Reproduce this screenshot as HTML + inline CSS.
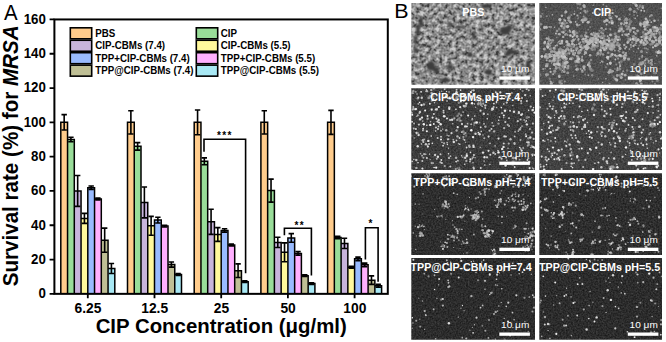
<!DOCTYPE html>
<html><head><meta charset="utf-8"><style>
html,body{margin:0;padding:0;background:#fff;width:666px;height:342px;overflow:hidden}
</style></head><body>
<svg width="666" height="342" viewBox="0 0 666 342" style="display:block"><rect width="666" height="342" fill="#fff"/><rect x="60.80" y="122.35" width="6.75" height="171.50" fill="#FFCC8C"/><rect x="67.55" y="139.50" width="6.75" height="154.35" fill="#99DD99"/><rect x="74.30" y="190.95" width="6.75" height="102.90" fill="#C8B4DC"/><rect x="81.05" y="218.39" width="6.75" height="75.46" fill="#FFF89C"/><rect x="87.80" y="187.69" width="6.75" height="106.16" fill="#99BBFF"/><rect x="94.55" y="199.01" width="6.75" height="94.84" fill="#FFB0FF"/><rect x="101.30" y="240.17" width="6.75" height="53.68" fill="#BFBF95"/><rect x="108.05" y="268.47" width="6.75" height="25.38" fill="#A8E8F4"/><rect x="127.50" y="122.35" width="6.75" height="171.50" fill="#FFCC8C"/><rect x="134.25" y="146.36" width="6.75" height="147.49" fill="#99DD99"/><rect x="141.00" y="202.44" width="6.75" height="91.41" fill="#C8B4DC"/><rect x="147.75" y="225.76" width="6.75" height="68.09" fill="#FFF89C"/><rect x="154.50" y="220.11" width="6.75" height="73.75" fill="#99BBFF"/><rect x="161.25" y="226.11" width="6.75" height="67.74" fill="#FFB0FF"/><rect x="168.00" y="264.52" width="6.75" height="29.33" fill="#BFBF95"/><rect x="174.75" y="274.47" width="6.75" height="19.38" fill="#A8E8F4"/><rect x="194.20" y="122.35" width="6.75" height="171.50" fill="#FFCC8C"/><rect x="200.95" y="161.28" width="6.75" height="132.57" fill="#99DD99"/><rect x="207.70" y="221.82" width="6.75" height="72.03" fill="#C8B4DC"/><rect x="214.45" y="234.51" width="6.75" height="59.34" fill="#FFF89C"/><rect x="221.20" y="230.40" width="6.75" height="63.46" fill="#99BBFF"/><rect x="227.95" y="244.97" width="6.75" height="48.88" fill="#FFB0FF"/><rect x="234.70" y="270.70" width="6.75" height="23.15" fill="#BFBF95"/><rect x="241.45" y="281.67" width="6.75" height="12.18" fill="#A8E8F4"/><rect x="260.90" y="122.35" width="6.75" height="171.50" fill="#FFCC8C"/><rect x="267.65" y="190.61" width="6.75" height="103.24" fill="#99DD99"/><rect x="274.40" y="242.40" width="6.75" height="51.45" fill="#C8B4DC"/><rect x="281.15" y="252.35" width="6.75" height="41.50" fill="#FFF89C"/><rect x="287.90" y="237.94" width="6.75" height="55.91" fill="#99BBFF"/><rect x="294.65" y="253.38" width="6.75" height="40.47" fill="#FFB0FF"/><rect x="301.40" y="275.67" width="6.75" height="18.18" fill="#BFBF95"/><rect x="308.15" y="283.56" width="6.75" height="10.29" fill="#A8E8F4"/><rect x="327.60" y="122.35" width="6.75" height="171.50" fill="#FFCC8C"/><rect x="334.35" y="237.60" width="6.75" height="56.25" fill="#99DD99"/><rect x="341.10" y="243.43" width="6.75" height="50.42" fill="#C8B4DC"/><rect x="347.85" y="267.27" width="6.75" height="26.58" fill="#FFF89C"/><rect x="354.60" y="258.86" width="6.75" height="34.99" fill="#99BBFF"/><rect x="361.35" y="264.87" width="6.75" height="28.98" fill="#FFB0FF"/><rect x="368.10" y="280.13" width="6.75" height="13.72" fill="#BFBF95"/><rect x="374.85" y="285.79" width="6.75" height="8.06" fill="#A8E8F4"/><path d="M60.80,293.85V122.35H67.55V293.85M67.55,293.85V139.50H74.30V293.85M74.30,293.85V190.95H81.05V293.85M81.05,293.85V218.39H87.80V293.85M87.80,293.85V187.69H94.55V293.85M94.55,293.85V199.01H101.30V293.85M101.30,293.85V240.17H108.05V293.85M108.05,293.85V268.47H114.80V293.85M127.50,293.85V122.35H134.25V293.85M134.25,293.85V146.36H141.00V293.85M141.00,293.85V202.44H147.75V293.85M147.75,293.85V225.76H154.50V293.85M154.50,293.85V220.11H161.25V293.85M161.25,293.85V226.11H168.00V293.85M168.00,293.85V264.52H174.75V293.85M174.75,293.85V274.47H181.50V293.85M194.20,293.85V122.35H200.95V293.85M200.95,293.85V161.28H207.70V293.85M207.70,293.85V221.82H214.45V293.85M214.45,293.85V234.51H221.20V293.85M221.20,293.85V230.40H227.95V293.85M227.95,293.85V244.97H234.70V293.85M234.70,293.85V270.70H241.45V293.85M241.45,293.85V281.67H248.20V293.85M260.90,293.85V122.35H267.65V293.85M267.65,293.85V190.61H274.40V293.85M274.40,293.85V242.40H281.15V293.85M281.15,293.85V252.35H287.90V293.85M287.90,293.85V237.94H294.65V293.85M294.65,293.85V253.38H301.40V293.85M301.40,293.85V275.67H308.15V293.85M308.15,293.85V283.56H314.90V293.85M327.60,293.85V122.35H334.35V293.85M334.35,293.85V237.60H341.10V293.85M341.10,293.85V243.43H347.85V293.85M347.85,293.85V267.27H354.60V293.85M354.60,293.85V258.86H361.35V293.85M361.35,293.85V264.87H368.10V293.85M368.10,293.85V280.13H374.85V293.85M374.85,293.85V285.79H381.60V293.85" fill="none" stroke="#000" stroke-width="1.5"/><path d="M64.17,114.63V130.07M61.47,114.63H66.88M61.47,130.07H66.88M70.92,137.27V141.73M68.22,137.27H73.62M68.22,141.73H73.62M77.67,175.52V206.39M74.97,175.52H80.38M74.97,206.39H80.38M84.42,213.42V223.36M81.72,213.42H87.12M81.72,223.36H87.12M91.17,185.98V189.41M88.47,185.98H93.88M88.47,189.41H93.88M97.92,198.15V199.87M95.22,198.15H100.62M95.22,199.87H100.62M104.67,228.17V252.18M101.97,228.17H107.38M101.97,252.18H107.38M111.42,263.49V273.44M108.72,263.49H114.12M108.72,273.44H114.12M130.88,110.69V134.01M128.18,110.69H133.57M128.18,134.01H133.57M137.62,142.59V150.13M134.93,142.59H140.32M134.93,150.13H140.32M144.38,187.01V217.88M141.68,187.01H147.07M141.68,217.88H147.07M151.12,216.33V235.20M148.43,216.33H153.82M148.43,235.20H153.82M157.88,217.19V223.02M155.18,217.19H160.57M155.18,223.02H160.57M164.62,225.25V226.97M161.93,225.25H167.32M161.93,226.97H167.32M171.38,261.95V267.10M168.68,261.95H174.07M168.68,267.10H174.07M178.12,273.61V275.33M175.43,273.61H180.82M175.43,275.33H180.82M197.57,110.00V134.70M194.88,110.00H200.27M194.88,134.70H200.27M204.32,157.85V164.71M201.62,157.85H207.02M201.62,164.71H207.02M211.07,209.30V234.34M208.38,209.30H213.77M208.38,234.34H213.77M217.82,227.65V241.37M215.12,227.65H220.52M215.12,241.37H220.52M224.57,228.68V232.11M221.88,228.68H227.27M221.88,232.11H227.27M231.32,244.12V245.83M228.62,244.12H234.02M228.62,245.83H234.02M238.07,263.84V277.56M235.38,263.84H240.77M235.38,277.56H240.77M244.82,280.82V282.53M242.12,280.82H247.52M242.12,282.53H247.52M264.28,110.69V134.01M261.58,110.69H266.98M261.58,134.01H266.98M271.03,179.12V202.10M268.33,179.12H273.73M268.33,202.10H273.73M277.78,237.26V247.55M275.08,237.26H280.48M275.08,247.55H280.48M284.53,242.91V261.78M281.83,242.91H287.23M281.83,261.78H287.23M291.28,233.65V242.23M288.58,233.65H293.98M288.58,242.23H293.98M298.03,251.66V255.09M295.33,251.66H300.73M295.33,255.09H300.73M304.78,274.81V276.53M302.08,274.81H307.48M302.08,276.53H307.48M311.53,282.70V284.42M308.83,282.70H314.23M308.83,284.42H314.23M330.98,110.34V134.35M328.28,110.34H333.68M328.28,134.35H333.68M337.73,236.40V238.80M335.03,236.40H340.43M335.03,238.80H340.43M344.48,238.28V248.57M341.78,238.28H347.18M341.78,248.57H347.18M351.23,266.41V268.12M348.53,266.41H353.93M348.53,268.12H353.93M357.98,257.15V260.58M355.28,257.15H360.68M355.28,260.58H360.68M364.73,263.15V266.58M362.03,263.15H367.43M362.03,266.58H367.43M371.48,275.84V284.42M368.78,275.84H374.18M368.78,284.42H374.18M378.23,284.42V287.16M375.53,284.42H380.93M375.53,287.16H380.93" fill="none" stroke="#000" stroke-width="1.6"/><rect x="54.4" y="19.45" width="333.40" height="274.40" fill="none" stroke="#000" stroke-width="2"/><path d="M49.60,293.85H54.4M49.60,259.55H54.4M49.60,225.25H54.4M49.60,190.95H54.4M49.60,156.65H54.4M49.60,122.35H54.4M49.60,88.05H54.4M49.60,53.75H54.4M49.60,19.45H54.4M87.80,293.85V298.35M154.50,293.85V298.35M221.20,293.85V298.35M287.90,293.85V298.35M354.60,293.85V298.35" stroke="#000" stroke-width="1.8"/><g style="font-family:'Liberation Sans',sans-serif;font-weight:bold;font-size:13.3px"><text transform="translate(45.9,298.15) scale(1,1.1)" text-anchor="end">0</text><text transform="translate(45.9,263.85) scale(1,1.1)" text-anchor="end">20</text><text transform="translate(45.9,229.55) scale(1,1.1)" text-anchor="end">40</text><text transform="translate(45.9,195.25) scale(1,1.1)" text-anchor="end">60</text><text transform="translate(45.9,160.95) scale(1,1.1)" text-anchor="end">80</text><text transform="translate(45.9,126.65) scale(1,1.1)" text-anchor="end">100</text><text transform="translate(45.9,92.35) scale(1,1.1)" text-anchor="end">120</text><text transform="translate(45.9,58.05) scale(1,1.1)" text-anchor="end">140</text><text transform="translate(45.9,23.75) scale(1,1.1)" text-anchor="end">160</text></g><g style="font-family:'Liberation Sans',sans-serif;font-weight:bold;font-size:13.8px"><text x="88.00" y="312.8" text-anchor="middle">6.25</text><text x="154.70" y="312.8" text-anchor="middle">12.5</text><text x="221.40" y="312.8" text-anchor="middle">25</text><text x="288.10" y="312.8" text-anchor="middle">50</text><text x="354.80" y="312.8" text-anchor="middle">100</text></g><text x="221.2" y="333.2" text-anchor="middle" style="font-family:'Liberation Sans',sans-serif;font-weight:bold;font-size:20.4px">CIP Concentration (μg/ml)</text><text transform="translate(17.7,286.3) rotate(-90) scale(1,1.06)" style="font-family:'Liberation Sans',sans-serif;font-weight:bold;font-size:20.6px">Survival rate (%) for <tspan font-style="italic">MRSA</tspan></text><text transform="translate(4.1,20.1) scale(0.95,1)" x="0" y="0" style="font-family:'Liberation Sans',sans-serif;font-size:21.5px">A</text><text transform="translate(394.3,17.5) scale(1.08,1)" x="0" y="0" style="font-family:'Liberation Sans',sans-serif;font-size:19.9px">B</text><rect x="70.3" y="27.80" width="21.4" height="11.0" fill="#FFCC8C" stroke="#000" stroke-width="1.6"/><rect x="196.3" y="27.80" width="21.4" height="11.0" fill="#99DD99" stroke="#000" stroke-width="1.6"/><rect x="70.3" y="40.25" width="21.4" height="11.0" fill="#C8B4DC" stroke="#000" stroke-width="1.6"/><rect x="196.3" y="40.25" width="21.4" height="11.0" fill="#FFF89C" stroke="#000" stroke-width="1.6"/><rect x="70.3" y="52.70" width="21.4" height="11.0" fill="#99BBFF" stroke="#000" stroke-width="1.6"/><rect x="196.3" y="52.70" width="21.4" height="11.0" fill="#FFB0FF" stroke="#000" stroke-width="1.6"/><rect x="70.3" y="65.15" width="21.4" height="11.0" fill="#BFBF95" stroke="#000" stroke-width="1.6"/><rect x="196.3" y="65.15" width="21.4" height="11.0" fill="#A8E8F4" stroke="#000" stroke-width="1.6"/><g style="font-family:'Liberation Sans',sans-serif;font-weight:bold;font-size:9.75px"><text transform="translate(95.3,36.80) scale(1,1.08)">PBS</text><text transform="translate(220.8,36.80) scale(1,1.08)">CIP</text><text transform="translate(95.3,49.25) scale(1,1.08)">CIP-CBMs (7.4)</text><text transform="translate(220.8,49.25) scale(1,1.08)">CIP-CBMs (5.5)</text><text transform="translate(95.3,61.70) scale(1,1.08)">TPP+CIP-CBMs (7.4)</text><text transform="translate(220.8,61.70) scale(1,1.08)">TPP+CIP-CBMs (5.5)</text><text transform="translate(95.3,74.15) scale(1,1.08)">TPP@CIP-CBMs (7.4)</text><text transform="translate(220.8,74.15) scale(1,1.08)">TPP@CIP-CBMs (5.5)</text></g><path d="M204,151.8V139.2H245.6V273.3M284.4,235.2V228.3H311.4V275.6M365.4,259.5V227.8H378.1V281.7" fill="none" stroke="#000" stroke-width="1.6"/><g style="font-family:'Liberation Sans',sans-serif;font-weight:bold;font-size:10px;letter-spacing:1.3px" text-anchor="middle"><text x="224.8" y="139.2">***</text><text x="299.8" y="228.6">**</text><text x="371.0" y="227">*</text></g><defs><filter id="bl" x="-5%" y="-5%" width="110%" height="110%"><feGaussianBlur stdDeviation="0.6"/></filter><filter id="bl2" x="-5%" y="-5%" width="110%" height="110%"><feGaussianBlur stdDeviation="1.2"/></filter><filter id="pbs" x="0" y="0" width="100%" height="100%" color-interpolation-filters="sRGB"><feTurbulence type="fractalNoise" baseFrequency="0.25" numOctaves="3" seed="11"/><feColorMatrix type="matrix" values="2 0 0 0 -0.5  2 0 0 0 -0.5  2 0 0 0 -0.5  0 0 0 0 1"/><feComponentTransfer><feFuncR type="table" tableValues="0.24 0.38 0.48 0.55 0.63 0.72 0.8"/><feFuncG type="table" tableValues="0.24 0.38 0.48 0.55 0.63 0.72 0.8"/><feFuncB type="table" tableValues="0.24 0.38 0.48 0.55 0.63 0.72 0.8"/></feComponentTransfer><feGaussianBlur stdDeviation="0.45"/></filter><filter id="n01" x="0" y="0" width="100%" height="100%" color-interpolation-filters="sRGB"><feTurbulence type="fractalNoise" baseFrequency="0.6" numOctaves="2" seed="4"/><feColorMatrix type="matrix" values="0.220 0 0 0 0.204  0.220 0 0 0 0.204  0.220 0 0 0 0.204  0 0 0 0 1"/><feGaussianBlur stdDeviation="0.5"/></filter><filter id="n10" x="0" y="0" width="100%" height="100%" color-interpolation-filters="sRGB"><feTurbulence type="fractalNoise" baseFrequency="0.6" numOctaves="2" seed="5"/><feColorMatrix type="matrix" values="0.267 0 0 0 0.102  0.267 0 0 0 0.102  0.267 0 0 0 0.102  0 0 0 0 1"/><feGaussianBlur stdDeviation="0.5"/></filter><filter id="n11" x="0" y="0" width="100%" height="100%" color-interpolation-filters="sRGB"><feTurbulence type="fractalNoise" baseFrequency="0.6" numOctaves="2" seed="6"/><feColorMatrix type="matrix" values="0.267 0 0 0 0.125  0.267 0 0 0 0.125  0.267 0 0 0 0.125  0 0 0 0 1"/><feGaussianBlur stdDeviation="0.5"/></filter><filter id="n20" x="0" y="0" width="100%" height="100%" color-interpolation-filters="sRGB"><feTurbulence type="fractalNoise" baseFrequency="0.6" numOctaves="2" seed="7"/><feColorMatrix type="matrix" values="0.251 0 0 0 0.055  0.251 0 0 0 0.055  0.251 0 0 0 0.055  0 0 0 0 1"/><feGaussianBlur stdDeviation="0.5"/></filter><filter id="n21" x="0" y="0" width="100%" height="100%" color-interpolation-filters="sRGB"><feTurbulence type="fractalNoise" baseFrequency="0.6" numOctaves="2" seed="8"/><feColorMatrix type="matrix" values="0.251 0 0 0 0.055  0.251 0 0 0 0.055  0.251 0 0 0 0.055  0 0 0 0 1"/><feGaussianBlur stdDeviation="0.5"/></filter><filter id="n30" x="0" y="0" width="100%" height="100%" color-interpolation-filters="sRGB"><feTurbulence type="fractalNoise" baseFrequency="0.6" numOctaves="2" seed="9"/><feColorMatrix type="matrix" values="0.235 0 0 0 0.055  0.235 0 0 0 0.055  0.235 0 0 0 0.055  0 0 0 0 1"/><feGaussianBlur stdDeviation="0.5"/></filter><filter id="n31" x="0" y="0" width="100%" height="100%" color-interpolation-filters="sRGB"><feTurbulence type="fractalNoise" baseFrequency="0.6" numOctaves="2" seed="10"/><feColorMatrix type="matrix" values="0.235 0 0 0 0.055  0.235 0 0 0 0.055  0.235 0 0 0 0.055  0 0 0 0 1"/><feGaussianBlur stdDeviation="0.5"/></filter><clipPath id="c00"><rect x="411.3" y="3.0" width="123.7" height="81.7"/></clipPath><clipPath id="c10"><rect x="411.3" y="88.3" width="123.7" height="81.6"/></clipPath><clipPath id="c20"><rect x="411.3" y="173.3" width="123.7" height="81.7"/></clipPath><clipPath id="c30"><rect x="411.3" y="258.1" width="123.7" height="81.7"/></clipPath><clipPath id="c01"><rect x="539.3" y="3.0" width="122.7" height="81.7"/></clipPath><clipPath id="c11"><rect x="539.3" y="88.3" width="122.7" height="81.6"/></clipPath><clipPath id="c21"><rect x="539.3" y="173.3" width="122.7" height="81.7"/></clipPath><clipPath id="c31"><rect x="539.3" y="258.1" width="122.7" height="81.7"/></clipPath></defs><g clip-path="url(#c00)"><rect x="411.3" y="3.0" width="123.7" height="81.7" filter="url(#pbs)"/><g fill="#3c3c3c" filter="url(#bl2)"><ellipse cx="505" cy="31" rx="5" ry="4"/><ellipse cx="509" cy="28" rx="3" ry="3"/><ellipse cx="512" cy="52" rx="6" ry="2.5"/><ellipse cx="508" cy="54" rx="3" ry="2"/><ellipse cx="431" cy="66" rx="4" ry="5"/><ellipse cx="436" cy="70" rx="3" ry="3"/><ellipse cx="450" cy="67" rx="3" ry="2.5"/><ellipse cx="421" cy="22" rx="2" ry="5"/><ellipse cx="418" cy="30" rx="2" ry="5"/><ellipse cx="415" cy="40" rx="1.5" ry="5"/><ellipse cx="474" cy="36" rx="1.5" ry="5"/><ellipse cx="460" cy="27" rx="5" ry="1.5"/><ellipse cx="450" cy="24" rx="2" ry="2.5"/><ellipse cx="488" cy="72" rx="4" ry="2.5"/><ellipse cx="416" cy="50" rx="2" ry="3"/><ellipse cx="528" cy="66" rx="2.5" ry="5"/><ellipse cx="486" cy="6" rx="6" ry="2"/><ellipse cx="445" cy="80" rx="6" ry="2"/><ellipse cx="470" cy="55" rx="2.5" ry="2.5"/></g></g><text x="473.3" y="16.1" text-anchor="middle" fill="#fff" style="font-family:'Liberation Sans',sans-serif;font-weight:bold;font-size:10.7px">PBS</text><rect x="499.3" y="76.4" width="30.6" height="3.3" fill="#fff"/><text transform="translate(515.2,71.6) scale(1.12,1)" text-anchor="middle" fill="#fff" style="font-family:'Liberation Sans',sans-serif;font-size:9px">10 μm</text><g clip-path="url(#c01)"><rect x="539.3" y="3.0" width="122.7" height="81.7" filter="url(#n01)"/><g filter="url(#bl)"><g fill="#7e7e7e"><circle cx="562.5" cy="54.5" r="1"/><circle cx="611.9" cy="21.4" r="1"/><circle cx="556.8" cy="30.3" r="0.8"/><circle cx="597.7" cy="43.4" r="1.1"/><circle cx="622.6" cy="31.5" r="1.2"/><circle cx="654" cy="29.4" r="1.5"/><circle cx="577.3" cy="60" r="1"/><circle cx="629.4" cy="19.7" r="1.1"/><circle cx="658.3" cy="39.8" r="1.3"/><circle cx="613.9" cy="77.2" r="1"/><circle cx="631" cy="21.4" r="1.5"/><circle cx="617.1" cy="75.6" r="1.4"/><circle cx="550.9" cy="48.4" r="1.5"/><circle cx="561.8" cy="71.9" r="1"/><circle cx="611.7" cy="49.8" r="1.5"/><circle cx="578.5" cy="51.7" r="1.3"/><circle cx="654.3" cy="72.7" r="1.5"/><circle cx="561.8" cy="80.5" r="1.1"/><circle cx="594.7" cy="49.4" r="1.3"/><circle cx="560" cy="81.2" r="1.5"/><circle cx="579.5" cy="51.2" r="1"/><circle cx="578" cy="57.7" r="1.4"/><circle cx="583.6" cy="38.9" r="1.3"/><circle cx="561.7" cy="54.5" r="1.5"/><circle cx="591.4" cy="48.5" r="1"/><circle cx="598.7" cy="50.9" r="1"/><circle cx="630.3" cy="22.4" r="1.4"/><circle cx="580" cy="-1.8" r="0.9"/><circle cx="546.1" cy="54.4" r="1.5"/><circle cx="584.6" cy="42" r="1.2"/><circle cx="598" cy="44.3" r="0.9"/><circle cx="612" cy="16.5" r="0.8"/><circle cx="549.8" cy="78.8" r="1.2"/><circle cx="634.2" cy="-0.5" r="1.3"/><circle cx="594.2" cy="34.8" r="1.2"/><circle cx="560" cy="54.4" r="1.2"/><circle cx="645.7" cy="43.6" r="0.9"/><circle cx="603.6" cy="30.3" r="1.3"/><circle cx="558" cy="42.8" r="1.1"/><circle cx="557.3" cy="60.1" r="1.6"/><circle cx="646" cy="29.4" r="1"/><circle cx="559.1" cy="29" r="1.3"/><circle cx="581.5" cy="36" r="1.6"/><circle cx="646.9" cy="58.9" r="1.5"/><circle cx="554.6" cy="49.8" r="1.2"/><circle cx="563.1" cy="61.7" r="1.1"/><circle cx="634.7" cy="37.9" r="1"/><circle cx="556.6" cy="62" r="0.9"/><circle cx="559.8" cy="43.6" r="0.8"/><circle cx="605" cy="49.9" r="1.4"/><circle cx="558" cy="64.4" r="1.3"/><circle cx="644.1" cy="72.4" r="1.4"/><circle cx="577" cy="47.7" r="1.2"/><circle cx="587.6" cy="41.8" r="1.1"/><circle cx="569.2" cy="52.5" r="1.4"/><circle cx="637.2" cy="75.8" r="1.6"/><circle cx="546.5" cy="76.2" r="0.9"/><circle cx="580.8" cy="50.5" r="1.5"/><circle cx="644.8" cy="36.9" r="1.5"/><circle cx="597.1" cy="34.7" r="1.1"/><circle cx="584.1" cy="43.1" r="1.1"/><circle cx="647.6" cy="49.4" r="1.2"/><circle cx="576" cy="65.7" r="1.3"/><circle cx="562.8" cy="63" r="0.9"/><circle cx="657.4" cy="80.5" r="1.5"/><circle cx="566.6" cy="55" r="1.1"/><circle cx="618.7" cy="69.6" r="1.3"/><circle cx="586.5" cy="19" r="1.2"/><circle cx="601.7" cy="44.7" r="1.3"/><circle cx="585.2" cy="34.9" r="1.1"/><circle cx="611.2" cy="35.1" r="1.4"/><circle cx="606.5" cy="49.6" r="1.2"/><circle cx="592" cy="70.5" r="1.6"/><circle cx="627.1" cy="70.5" r="1.2"/><circle cx="621.3" cy="61.6" r="1.4"/><circle cx="581.9" cy="58.6" r="1.3"/><circle cx="655.5" cy="38" r="1.4"/><circle cx="561.7" cy="55.2" r="0.8"/><circle cx="560.5" cy="69.1" r="1.5"/><circle cx="605.9" cy="67.3" r="1.1"/><circle cx="581.4" cy="1.5" r="1.4"/><circle cx="578" cy="18.4" r="1"/><circle cx="639.4" cy="45.5" r="1"/><circle cx="556.4" cy="55.5" r="1"/><circle cx="640.2" cy="5.9" r="1.4"/><circle cx="627.3" cy="29.4" r="1"/><circle cx="565.3" cy="30.5" r="1.1"/><circle cx="645" cy="38.4" r="1.4"/><circle cx="634.1" cy="64.5" r="1.4"/><circle cx="563.5" cy="56.9" r="1.1"/><circle cx="613.7" cy="77.5" r="1.2"/><circle cx="563.4" cy="21.9" r="0.8"/><circle cx="621.4" cy="27.5" r="1.6"/><circle cx="569.7" cy="16.8" r="1.3"/><circle cx="643.9" cy="35.6" r="1.6"/><circle cx="542.2" cy="13.7" r="1"/><circle cx="575" cy="45.1" r="0.9"/><circle cx="641.3" cy="76.5" r="0.6"/><circle cx="596" cy="15.6" r="0.6"/><circle cx="567.9" cy="31.7" r="0.7"/><circle cx="614.1" cy="49.2" r="0.9"/><circle cx="634.1" cy="15.1" r="0.9"/><circle cx="624.5" cy="16.8" r="0.7"/><circle cx="563.5" cy="32.2" r="1"/><circle cx="620.3" cy="44.8" r="0.6"/><circle cx="565.2" cy="57.3" r="0.8"/><circle cx="641" cy="6.8" r="0.7"/><circle cx="543.7" cy="71.2" r="0.6"/><circle cx="623.2" cy="60" r="1"/><circle cx="620.9" cy="17.3" r="0.6"/><circle cx="620.6" cy="64.5" r="0.6"/><circle cx="621.2" cy="24.8" r="1"/><circle cx="582.2" cy="61" r="0.8"/></g><g fill="#8a8a8a"><circle cx="610.2" cy="48.4" r="1.6"/><circle cx="547.8" cy="45.9" r="1.5"/><circle cx="631" cy="47.2" r="1"/><circle cx="645.5" cy="28.2" r="1.2"/><circle cx="567.1" cy="53.4" r="1"/><circle cx="635.8" cy="38.5" r="1.4"/><circle cx="563.9" cy="68.8" r="1.4"/><circle cx="639.4" cy="64.6" r="1.3"/><circle cx="593.6" cy="45.8" r="1.4"/><circle cx="609.1" cy="47.7" r="1"/><circle cx="639.2" cy="7.4" r="0.9"/><circle cx="580.8" cy="8.7" r="1.3"/><circle cx="554.4" cy="94.2" r="1"/><circle cx="655.4" cy="84.7" r="0.9"/><circle cx="591" cy="60" r="1.2"/><circle cx="656.6" cy="52" r="1.6"/><circle cx="604" cy="36.1" r="1.6"/><circle cx="583.8" cy="46.6" r="1"/><circle cx="594.8" cy="38.4" r="0.9"/><circle cx="583.8" cy="46.7" r="1.2"/><circle cx="560" cy="56.1" r="1.6"/><circle cx="610.8" cy="56.3" r="1.3"/><circle cx="648.6" cy="31" r="0.8"/><circle cx="584.6" cy="50.8" r="0.9"/><circle cx="651.4" cy="32.4" r="1.5"/><circle cx="618.6" cy="31.5" r="1.2"/><circle cx="600.8" cy="53.3" r="1.5"/><circle cx="598.1" cy="52.2" r="0.9"/><circle cx="637.8" cy="71.5" r="1.2"/><circle cx="562.8" cy="52.9" r="1.5"/><circle cx="571.3" cy="15" r="0.9"/><circle cx="572.2" cy="58.3" r="1.5"/><circle cx="548.3" cy="42.1" r="1.4"/><circle cx="590.5" cy="68.8" r="1.6"/><circle cx="596.7" cy="46.3" r="1.5"/><circle cx="641.4" cy="43" r="1"/><circle cx="624.4" cy="20.6" r="1.1"/><circle cx="616.3" cy="64.4" r="1"/><circle cx="592.4" cy="49.7" r="1.4"/><circle cx="565" cy="26.6" r="0.9"/><circle cx="586.1" cy="32.7" r="1.3"/><circle cx="628.5" cy="38.9" r="1.2"/><circle cx="585.2" cy="18.2" r="1.5"/><circle cx="589.1" cy="21.9" r="1.3"/><circle cx="554.4" cy="63.7" r="1.4"/><circle cx="547.6" cy="54.6" r="1.2"/><circle cx="565.1" cy="34.6" r="0.9"/><circle cx="550.9" cy="27.1" r="1.3"/><circle cx="640.9" cy="43.1" r="1.3"/><circle cx="597.6" cy="35.6" r="1.2"/><circle cx="582.4" cy="71.7" r="1.4"/><circle cx="627.9" cy="36.4" r="1"/><circle cx="648.2" cy="21.9" r="0.8"/><circle cx="572" cy="47.9" r="0.8"/><circle cx="564.8" cy="26.4" r="1.4"/><circle cx="596.6" cy="37.4" r="1.5"/><circle cx="643" cy="62.4" r="1.4"/><circle cx="547.6" cy="44.3" r="1.5"/><circle cx="636.2" cy="38.7" r="1"/><circle cx="615.7" cy="36.6" r="1.5"/><circle cx="611.1" cy="45.9" r="1.4"/><circle cx="556.8" cy="37.5" r="0.8"/><circle cx="556.7" cy="53.5" r="0.9"/><circle cx="606.7" cy="46.5" r="0.9"/><circle cx="563.4" cy="63.3" r="0.9"/><circle cx="562" cy="51.1" r="1.4"/><circle cx="619.8" cy="75.5" r="1.3"/><circle cx="616.7" cy="56.3" r="1.4"/><circle cx="629.4" cy="24.7" r="1.1"/><circle cx="652.4" cy="44" r="1.4"/><circle cx="588" cy="36.7" r="1.2"/><circle cx="566.7" cy="22.9" r="1.2"/><circle cx="642.5" cy="41.3" r="1.4"/><circle cx="637.6" cy="0.1" r="1.5"/><circle cx="596.7" cy="55.5" r="0.9"/><circle cx="642" cy="56.7" r="1.3"/><circle cx="560.7" cy="55.7" r="1.2"/><circle cx="601.5" cy="36" r="1.2"/><circle cx="571.2" cy="58.1" r="1.3"/><circle cx="594.5" cy="47.2" r="1.1"/><circle cx="657.2" cy="45.1" r="1.4"/><circle cx="652.6" cy="81.4" r="1"/><circle cx="563.4" cy="31.7" r="1.3"/><circle cx="659.7" cy="34.1" r="1.1"/><circle cx="584" cy="68.4" r="0.8"/><circle cx="600.8" cy="51.8" r="1.2"/><circle cx="634.1" cy="36.6" r="1.1"/><circle cx="647.9" cy="22.1" r="1.4"/><circle cx="607.6" cy="20.8" r="1.3"/><circle cx="594.8" cy="40" r="1.2"/><circle cx="571.3" cy="40.5" r="0.8"/><circle cx="559.5" cy="53.9" r="0.9"/><circle cx="600" cy="49.6" r="0.8"/><circle cx="566.9" cy="45.3" r="1.4"/><circle cx="619.9" cy="69.1" r="1.4"/><circle cx="594" cy="41.7" r="1.6"/><circle cx="620" cy="64.3" r="1.1"/><circle cx="647.1" cy="27.1" r="0.8"/><circle cx="643.2" cy="32.4" r="1.3"/><circle cx="659.6" cy="86.3" r="0.8"/><circle cx="576.5" cy="33.1" r="1.5"/><circle cx="628.7" cy="41.3" r="1.3"/><circle cx="628.6" cy="29.1" r="1.1"/><circle cx="633.4" cy="46.1" r="0.8"/><circle cx="585.1" cy="74.2" r="0.8"/><circle cx="635.2" cy="4" r="1.6"/><circle cx="570.4" cy="46.2" r="1.4"/><circle cx="564.3" cy="23.8" r="1.5"/><circle cx="601.4" cy="43.8" r="1"/><circle cx="560.6" cy="63.3" r="0.8"/><circle cx="544.6" cy="42.8" r="1"/><circle cx="607.3" cy="20.2" r="1.3"/><circle cx="648.8" cy="25" r="1.2"/><circle cx="636.5" cy="12.8" r="0.8"/><circle cx="650.5" cy="44.5" r="1.3"/><circle cx="559.8" cy="22.9" r="1.3"/><circle cx="551.7" cy="51" r="1.5"/><circle cx="660.9" cy="28.9" r="1.6"/><circle cx="599.5" cy="30.7" r="1"/><circle cx="634.9" cy="85.8" r="1.1"/><circle cx="656.8" cy="43.8" r="1.2"/><circle cx="560.4" cy="48.5" r="1.1"/><circle cx="565.3" cy="50.9" r="1.1"/><circle cx="636" cy="39.8" r="1.6"/><circle cx="579.7" cy="3.9" r="1.6"/><circle cx="615.1" cy="33.7" r="1.5"/><circle cx="626.4" cy="25.9" r="1.5"/><circle cx="632.1" cy="42.4" r="1.2"/><circle cx="619.4" cy="51.7" r="0.9"/><circle cx="540.9" cy="24.2" r="1.3"/><circle cx="603.9" cy="40.9" r="0.9"/><circle cx="646.2" cy="37.2" r="1.5"/><circle cx="558.8" cy="55.5" r="1.5"/><circle cx="576.2" cy="48.7" r="1.5"/><circle cx="631.3" cy="46" r="0.8"/><circle cx="559.8" cy="58" r="0.9"/><circle cx="654.9" cy="84" r="1.1"/><circle cx="660" cy="28.4" r="1.5"/><circle cx="596.5" cy="37.4" r="1"/><circle cx="610.5" cy="42.9" r="1.2"/><circle cx="603.1" cy="54.1" r="0.9"/><circle cx="649.9" cy="20.1" r="0.9"/><circle cx="592.2" cy="75.2" r="1.2"/><circle cx="624.5" cy="60" r="1.2"/><circle cx="549.8" cy="46" r="1.2"/><circle cx="602.3" cy="44.3" r="1.6"/><circle cx="598.4" cy="33.7" r="1.5"/><circle cx="653.7" cy="35" r="1.6"/><circle cx="612" cy="43.8" r="1"/><circle cx="612.7" cy="44.2" r="1.5"/><circle cx="644.6" cy="48.3" r="1"/><circle cx="590.1" cy="38.8" r="1.3"/><circle cx="604.6" cy="38.9" r="1"/><circle cx="583" cy="18.8" r="0.8"/><circle cx="565.3" cy="60.4" r="1.5"/><circle cx="587.4" cy="11.4" r="1.1"/><circle cx="561.4" cy="49.8" r="1.6"/><circle cx="540.7" cy="81.1" r="0.6"/><circle cx="636.7" cy="52.3" r="0.5"/><circle cx="540.6" cy="74.2" r="0.8"/><circle cx="643.7" cy="61.4" r="0.9"/><circle cx="559.6" cy="67" r="0.8"/><circle cx="589.4" cy="62" r="1"/><circle cx="646" cy="32.1" r="0.7"/><circle cx="633.6" cy="51.4" r="0.7"/><circle cx="588.2" cy="29.7" r="0.8"/><circle cx="614.9" cy="68.9" r="0.7"/><circle cx="579.2" cy="79.6" r="0.6"/><circle cx="654.6" cy="33.8" r="0.5"/><circle cx="629.7" cy="14.5" r="0.7"/><circle cx="626.3" cy="17.7" r="0.6"/><circle cx="549.6" cy="16.1" r="0.5"/><circle cx="625.4" cy="79.7" r="0.9"/><circle cx="539.8" cy="51.1" r="0.6"/><circle cx="638.6" cy="9.6" r="0.7"/><circle cx="618.7" cy="25.7" r="0.8"/><circle cx="645.4" cy="63.2" r="1"/><circle cx="566.7" cy="73.1" r="0.6"/><circle cx="546.8" cy="16.2" r="1"/><circle cx="598.3" cy="46.3" r="0.6"/><circle cx="579.6" cy="31" r="0.5"/><circle cx="553.1" cy="82.2" r="0.7"/><circle cx="609.6" cy="83.7" r="1"/></g><g fill="#969696"><circle cx="653.9" cy="35.8" r="1.5"/><circle cx="629.6" cy="23.9" r="1"/><circle cx="623.2" cy="71.3" r="1"/><circle cx="661.2" cy="39.9" r="1.2"/><circle cx="641.9" cy="43" r="0.9"/><circle cx="641.1" cy="40" r="0.8"/><circle cx="560" cy="82.5" r="1.3"/><circle cx="609.8" cy="17.7" r="1.3"/><circle cx="581.5" cy="45" r="1"/><circle cx="649.5" cy="35.8" r="0.8"/><circle cx="654.4" cy="31.2" r="1.3"/><circle cx="607.7" cy="46.3" r="1.6"/><circle cx="547.7" cy="74.6" r="1.4"/><circle cx="567.8" cy="67.9" r="1.6"/><circle cx="539.8" cy="29.2" r="1.5"/><circle cx="600.6" cy="37.1" r="1.2"/><circle cx="619.5" cy="28.4" r="0.9"/><circle cx="566" cy="33.8" r="1.1"/><circle cx="659.4" cy="32.4" r="1.3"/><circle cx="561.9" cy="83.5" r="1.1"/><circle cx="608.2" cy="52.7" r="1.3"/><circle cx="564.3" cy="63.7" r="1.3"/><circle cx="573.8" cy="46.6" r="1.3"/><circle cx="564.6" cy="54.3" r="1.3"/><circle cx="612.1" cy="44.2" r="1.1"/><circle cx="653.4" cy="27.3" r="1.5"/><circle cx="554.8" cy="88.5" r="1"/><circle cx="545.1" cy="68.8" r="0.8"/><circle cx="594.9" cy="38.6" r="1.1"/><circle cx="616.9" cy="44.8" r="1.4"/><circle cx="562.6" cy="66.6" r="1.3"/><circle cx="609" cy="37.8" r="0.9"/><circle cx="662.3" cy="36.8" r="1.3"/><circle cx="557" cy="31" r="1.3"/><circle cx="591.2" cy="48.5" r="1.1"/><circle cx="559.4" cy="67.8" r="0.9"/><circle cx="641" cy="25.7" r="1"/><circle cx="563.6" cy="50.3" r="1.1"/><circle cx="569.4" cy="20.7" r="1.2"/><circle cx="545" cy="57.6" r="1.1"/><circle cx="561.6" cy="56.4" r="1"/><circle cx="618.1" cy="58.6" r="1.1"/><circle cx="660.4" cy="36.3" r="1.1"/><circle cx="546.2" cy="65.9" r="1.3"/><circle cx="617.6" cy="42.7" r="1.3"/><circle cx="601.3" cy="32.5" r="1.2"/><circle cx="584.7" cy="69.7" r="1.1"/><circle cx="580.7" cy="0.9" r="0.9"/><circle cx="584.6" cy="47" r="1"/><circle cx="578.8" cy="50.9" r="0.9"/><circle cx="577.7" cy="3.2" r="1.5"/><circle cx="597.9" cy="45.8" r="0.9"/><circle cx="628.6" cy="27.8" r="1.3"/><circle cx="568.4" cy="48.9" r="1"/><circle cx="577.5" cy="57.9" r="1.2"/><circle cx="602.6" cy="61.8" r="1.1"/><circle cx="549.6" cy="45.2" r="1"/><circle cx="567.8" cy="72.9" r="1.4"/><circle cx="625.6" cy="19.4" r="1.3"/><circle cx="633.4" cy="36.6" r="1.5"/><circle cx="646.5" cy="19.7" r="1.3"/><circle cx="636.5" cy="83.4" r="1.5"/><circle cx="630.3" cy="38.4" r="1.1"/><circle cx="612.1" cy="39.7" r="1.3"/><circle cx="644.7" cy="23.5" r="1.1"/><circle cx="593.4" cy="44" r="1"/><circle cx="626.6" cy="19.4" r="1.6"/><circle cx="646.4" cy="37.7" r="1.3"/><circle cx="624" cy="24.6" r="0.9"/><circle cx="603" cy="43.3" r="1.5"/><circle cx="563.1" cy="56.3" r="1.1"/><circle cx="602.6" cy="47.5" r="1.2"/><circle cx="551.4" cy="42.4" r="1.1"/><circle cx="588.6" cy="64.7" r="1"/><circle cx="642.6" cy="36.8" r="1.1"/><circle cx="549.4" cy="45.5" r="1.1"/><circle cx="554.6" cy="71.1" r="1.5"/><circle cx="618.8" cy="36.9" r="1.2"/><circle cx="563.5" cy="58.9" r="1"/><circle cx="564" cy="51.4" r="0.9"/><circle cx="651.9" cy="64.7" r="1.3"/><circle cx="549.1" cy="44.5" r="1"/><circle cx="549.2" cy="40.6" r="1.2"/><circle cx="619.7" cy="39.5" r="1.3"/><circle cx="558" cy="67.5" r="0.9"/><circle cx="546.2" cy="54.4" r="1.1"/><circle cx="552.7" cy="40.3" r="1.4"/><circle cx="564.3" cy="19.8" r="1.2"/><circle cx="571.9" cy="44" r="0.9"/><circle cx="566.6" cy="41.4" r="1.3"/><circle cx="606.3" cy="45.5" r="0.9"/><circle cx="644.8" cy="37" r="1.2"/><circle cx="641.2" cy="73.7" r="1.3"/><circle cx="586.3" cy="38.2" r="1"/><circle cx="619.2" cy="67.9" r="0.8"/><circle cx="592.5" cy="46.8" r="1.3"/><circle cx="603.1" cy="54.6" r="1.2"/><circle cx="606.3" cy="43.7" r="0.9"/><circle cx="634.3" cy="11.6" r="1.5"/><circle cx="562.5" cy="50.2" r="1.3"/><circle cx="584.8" cy="10.9" r="1.5"/><circle cx="546.3" cy="64.1" r="1"/><circle cx="555" cy="71.2" r="1.3"/><circle cx="612.8" cy="48.2" r="1.5"/><circle cx="578.6" cy="62.2" r="1.4"/><circle cx="636.8" cy="40.4" r="1.2"/><circle cx="564.2" cy="65" r="1.5"/><circle cx="619.5" cy="44.7" r="1.3"/><circle cx="594.8" cy="45.7" r="1.5"/><circle cx="650.8" cy="63.2" r="1.4"/><circle cx="552.3" cy="61" r="1.5"/><circle cx="613.7" cy="41.3" r="0.9"/><circle cx="628.1" cy="41.6" r="1.3"/><circle cx="547.8" cy="64" r="1.1"/><circle cx="564.8" cy="81.4" r="1"/><circle cx="557.1" cy="54.9" r="1.4"/><circle cx="597.5" cy="42.3" r="1.2"/><circle cx="585" cy="39.6" r="1.4"/><circle cx="555.8" cy="58.3" r="1.1"/><circle cx="560.1" cy="59.8" r="0.9"/><circle cx="655.5" cy="85.7" r="1.6"/><circle cx="644" cy="44.1" r="1"/><circle cx="563.9" cy="27.9" r="1.5"/><circle cx="640.6" cy="62.7" r="1.3"/><circle cx="641.5" cy="51.6" r="1.5"/><circle cx="567.5" cy="34.9" r="1.1"/><circle cx="652.1" cy="61.7" r="0.9"/><circle cx="572.9" cy="52.6" r="1.3"/><circle cx="639.2" cy="64.6" r="1"/><circle cx="596.8" cy="42.7" r="1.2"/><circle cx="558.3" cy="60.4" r="1.2"/><circle cx="567.5" cy="48.4" r="1.5"/><circle cx="614.6" cy="39.7" r="1.5"/><circle cx="575.8" cy="61.7" r="1.5"/><circle cx="549.7" cy="56.8" r="1.2"/><circle cx="548" cy="46.7" r="1.2"/><circle cx="646" cy="34.8" r="0.9"/><circle cx="635.7" cy="37.7" r="1.1"/><circle cx="597.5" cy="36.8" r="1.2"/><circle cx="587.6" cy="40" r="1.2"/><circle cx="583.7" cy="16.5" r="1"/><circle cx="561.7" cy="32" r="1"/><circle cx="612.7" cy="10" r="0.8"/><circle cx="611.3" cy="72.1" r="1.4"/><circle cx="634.7" cy="44.7" r="1"/><circle cx="549.9" cy="49.2" r="1.1"/><circle cx="547.1" cy="57.7" r="1.6"/><circle cx="650.2" cy="30.4" r="1.2"/><circle cx="580.7" cy="68.9" r="1"/><circle cx="651.5" cy="15.3" r="1.3"/><circle cx="642.9" cy="6.1" r="1"/><circle cx="580" cy="46.2" r="1.2"/><circle cx="610.2" cy="43.9" r="1.1"/><circle cx="564.3" cy="46.8" r="0.8"/><circle cx="654.5" cy="34.1" r="1.2"/><circle cx="540.7" cy="16.4" r="1.4"/><circle cx="559.7" cy="55.9" r="1.4"/><circle cx="559.1" cy="49.5" r="1.2"/><circle cx="662.1" cy="44.6" r="1.3"/><circle cx="566.6" cy="42.1" r="1.4"/><circle cx="564.2" cy="53.7" r="1.1"/><circle cx="652.7" cy="86.1" r="0.9"/><circle cx="562.1" cy="54.3" r="1.2"/><circle cx="630" cy="31.8" r="1"/><circle cx="661.7" cy="76.2" r="0.5"/><circle cx="619.6" cy="49.4" r="0.7"/><circle cx="619" cy="74.8" r="0.6"/><circle cx="659.1" cy="61.9" r="0.6"/><circle cx="612.2" cy="20.6" r="0.9"/><circle cx="645.9" cy="76.3" r="0.8"/><circle cx="578.6" cy="17" r="0.6"/><circle cx="617.2" cy="39.4" r="0.6"/><circle cx="602.9" cy="41.5" r="0.8"/><circle cx="606.5" cy="6.4" r="0.9"/><circle cx="540.8" cy="75.8" r="0.6"/><circle cx="554.1" cy="73" r="0.7"/><circle cx="610.5" cy="29.7" r="0.8"/><circle cx="637.6" cy="30.5" r="0.8"/><circle cx="656.1" cy="73.1" r="1"/><circle cx="571" cy="66.9" r="0.6"/><circle cx="643.8" cy="73.1" r="0.6"/><circle cx="658.1" cy="20.3" r="0.7"/><circle cx="578.3" cy="40.4" r="1"/><circle cx="575.3" cy="61" r="0.9"/><circle cx="590.9" cy="20.1" r="0.5"/><circle cx="574.5" cy="11.2" r="0.6"/><circle cx="573.7" cy="76.1" r="0.8"/></g><g fill="#a2a2a2"><circle cx="625.8" cy="55.5" r="1.3"/><circle cx="572.4" cy="44" r="1.2"/><circle cx="547.7" cy="57.8" r="1.2"/><circle cx="637.6" cy="30.8" r="1.4"/><circle cx="664.5" cy="43.7" r="1.2"/><circle cx="611.6" cy="54.4" r="1.2"/><circle cx="566.4" cy="49.8" r="1.4"/><circle cx="640" cy="81.5" r="1.1"/><circle cx="635.5" cy="33.6" r="1.3"/><circle cx="587.4" cy="47.2" r="1.3"/><circle cx="567.9" cy="26.3" r="1.4"/><circle cx="564.2" cy="71.7" r="1.4"/><circle cx="585.7" cy="12.4" r="0.9"/><circle cx="618.9" cy="46.1" r="1.4"/><circle cx="558.1" cy="56.4" r="1"/><circle cx="630.1" cy="9.2" r="1.6"/><circle cx="606" cy="39.8" r="0.8"/><circle cx="574" cy="31.8" r="1"/><circle cx="610.2" cy="70.4" r="1.6"/><circle cx="646.1" cy="34.3" r="1.4"/><circle cx="630.4" cy="30.1" r="1.5"/><circle cx="611.5" cy="21.1" r="1.1"/><circle cx="629.4" cy="49.1" r="0.9"/><circle cx="617.3" cy="75.4" r="1.3"/><circle cx="539.6" cy="48.4" r="0.8"/><circle cx="628.9" cy="26.6" r="1"/><circle cx="603.3" cy="43.2" r="1.4"/><circle cx="617.2" cy="70.2" r="1.1"/><circle cx="644" cy="44.4" r="1.5"/><circle cx="608.1" cy="58.8" r="1.2"/><circle cx="646.4" cy="38.4" r="1"/><circle cx="656.5" cy="30.6" r="1.4"/><circle cx="582.2" cy="48" r="1.3"/><circle cx="612.6" cy="47.3" r="1.4"/><circle cx="550.5" cy="40" r="1.1"/><circle cx="577.3" cy="69.2" r="1.6"/><circle cx="588.4" cy="75.2" r="0.9"/><circle cx="577.6" cy="25.3" r="1.2"/><circle cx="551" cy="51.9" r="1.1"/><circle cx="578.1" cy="56.8" r="1.2"/><circle cx="548.6" cy="39.1" r="1.3"/><circle cx="562.3" cy="65.1" r="0.8"/><circle cx="557" cy="45.3" r="1.1"/><circle cx="567.1" cy="62.6" r="0.9"/><circle cx="568.5" cy="20.3" r="1.1"/><circle cx="597.3" cy="34.1" r="1.3"/><circle cx="645.9" cy="44.6" r="0.8"/><circle cx="554.3" cy="51.6" r="1.2"/><circle cx="595.6" cy="39.6" r="1.4"/><circle cx="592.6" cy="40.4" r="1.5"/><circle cx="625.4" cy="34.6" r="1.2"/><circle cx="634.9" cy="39.3" r="1.4"/><circle cx="604.5" cy="49" r="1.4"/><circle cx="574" cy="31.3" r="1.5"/><circle cx="546.3" cy="74.7" r="1.4"/><circle cx="580.6" cy="49.9" r="1.1"/><circle cx="585.6" cy="19.4" r="1.5"/><circle cx="603.9" cy="41.1" r="1.6"/><circle cx="562.5" cy="58.3" r="1"/><circle cx="630.8" cy="44.8" r="1"/><circle cx="554.1" cy="55.3" r="1.1"/><circle cx="553.6" cy="58.2" r="0.9"/><circle cx="657" cy="44.5" r="1.5"/><circle cx="647.3" cy="36.6" r="1.2"/><circle cx="615.2" cy="41.2" r="1.2"/><circle cx="574.6" cy="55.2" r="1.1"/><circle cx="601.1" cy="38.2" r="1"/><circle cx="585.1" cy="40.8" r="1"/><circle cx="582.2" cy="39.6" r="1.1"/><circle cx="592.9" cy="46" r="1.3"/><circle cx="549.8" cy="60.9" r="1.3"/><circle cx="586.3" cy="41.5" r="1.5"/><circle cx="579.9" cy="52.6" r="1.2"/><circle cx="561.1" cy="54.1" r="1.5"/><circle cx="554.9" cy="55.8" r="1.2"/><circle cx="583.1" cy="41.6" r="1.2"/><circle cx="543.2" cy="69" r="1"/><circle cx="565.9" cy="65.1" r="1"/><circle cx="628.6" cy="59" r="1.6"/><circle cx="612.1" cy="49.6" r="1"/><circle cx="577.3" cy="48.6" r="1.2"/><circle cx="605.9" cy="46.9" r="1.5"/><circle cx="614.3" cy="45.6" r="1.3"/><circle cx="578.6" cy="52.9" r="1.6"/><circle cx="615.7" cy="38.9" r="1.6"/><circle cx="638.4" cy="76.3" r="1.3"/><circle cx="589" cy="63.4" r="1.5"/><circle cx="641.2" cy="83.9" r="1.4"/><circle cx="568.3" cy="66" r="1.2"/><circle cx="647.2" cy="37.5" r="1.3"/><circle cx="592.6" cy="43.3" r="1"/><circle cx="580.5" cy="12.9" r="0.9"/><circle cx="555.8" cy="66.4" r="1"/><circle cx="550.7" cy="72" r="1"/><circle cx="584.2" cy="19.3" r="1"/><circle cx="558.2" cy="55.3" r="1.3"/><circle cx="573.7" cy="36.3" r="1"/><circle cx="595.5" cy="33.7" r="1.2"/><circle cx="573.8" cy="33.4" r="1.3"/><circle cx="568.5" cy="18" r="1.6"/><circle cx="600.2" cy="54.9" r="0.8"/><circle cx="642.6" cy="63.7" r="1"/><circle cx="651.1" cy="29.4" r="0.8"/><circle cx="555.4" cy="53.1" r="0.8"/><circle cx="609.4" cy="45.2" r="1.1"/><circle cx="594.7" cy="42.1" r="0.8"/><circle cx="644.5" cy="43.6" r="1.1"/><circle cx="611.9" cy="44" r="1.5"/><circle cx="544.4" cy="49" r="1.5"/><circle cx="621.7" cy="29.6" r="1.4"/><circle cx="647.2" cy="42.4" r="1.5"/><circle cx="598.7" cy="41.5" r="0.8"/><circle cx="554.1" cy="57.8" r="1"/><circle cx="634.7" cy="39.7" r="1.3"/><circle cx="647.2" cy="30.6" r="0.8"/><circle cx="604.4" cy="41.1" r="1.3"/><circle cx="591.3" cy="38.4" r="1.3"/><circle cx="582.4" cy="48.2" r="1.2"/><circle cx="645.1" cy="26.1" r="1.2"/><circle cx="657.4" cy="44.8" r="1.2"/><circle cx="559.8" cy="65.2" r="1.3"/><circle cx="550.7" cy="43.6" r="0.8"/><circle cx="588.4" cy="48.3" r="1.1"/><circle cx="597.9" cy="53.4" r="1.5"/><circle cx="556.1" cy="68.4" r="1.4"/><circle cx="642.8" cy="62.7" r="1.4"/><circle cx="585.3" cy="35.8" r="1.3"/><circle cx="588.7" cy="43.8" r="1.4"/><circle cx="578" cy="58.9" r="1"/><circle cx="565.1" cy="34.8" r="0.9"/><circle cx="560.6" cy="52.6" r="1"/><circle cx="623.3" cy="52.5" r="1.2"/><circle cx="609.9" cy="45.7" r="1.5"/><circle cx="563.1" cy="56.2" r="0.9"/><circle cx="582.2" cy="56.7" r="1"/><circle cx="579.7" cy="24.8" r="0.9"/><circle cx="555.6" cy="52.5" r="1.3"/><circle cx="612.7" cy="71.3" r="1.3"/><circle cx="555.6" cy="52.5" r="1"/><circle cx="648.2" cy="62.7" r="0.8"/><circle cx="618.5" cy="50.7" r="0.9"/><circle cx="599.6" cy="36.7" r="1.1"/><circle cx="552.8" cy="51.7" r="1.1"/><circle cx="603.1" cy="33.6" r="1.1"/><circle cx="633.8" cy="39.8" r="1.4"/><circle cx="649.6" cy="40.3" r="1"/><circle cx="624.4" cy="58" r="1.4"/><circle cx="624.3" cy="24" r="1"/><circle cx="558.5" cy="60.6" r="1"/><circle cx="651.4" cy="60.1" r="1.4"/><circle cx="591.3" cy="40.8" r="1"/><circle cx="650.8" cy="37" r="1.3"/><circle cx="651.8" cy="33.9" r="1.6"/><circle cx="559.2" cy="75.9" r="1.3"/><circle cx="592.4" cy="34.8" r="1.1"/><circle cx="601.6" cy="28.3" r="1.2"/><circle cx="605.8" cy="29.1" r="1"/><circle cx="621.6" cy="55.3" r="0.9"/><circle cx="639.4" cy="58.7" r="1"/><circle cx="613.8" cy="42.4" r="1.4"/><circle cx="646.2" cy="48.2" r="0.8"/><circle cx="625.1" cy="57.8" r="1.3"/><circle cx="558.1" cy="62.4" r="1.3"/><circle cx="659.7" cy="42.9" r="1.5"/><circle cx="610.6" cy="48.2" r="1.5"/><circle cx="561.2" cy="84.6" r="1.1"/><circle cx="608.8" cy="38.3" r="1.1"/><circle cx="610.2" cy="56.4" r="0.9"/><circle cx="590.7" cy="41.3" r="1.1"/><circle cx="661.5" cy="37.4" r="0.9"/><circle cx="619.9" cy="48.1" r="1.1"/><circle cx="660.2" cy="37.1" r="1.6"/><circle cx="654.9" cy="63.3" r="0.6"/><circle cx="602.6" cy="82.5" r="0.7"/><circle cx="593.1" cy="5.5" r="0.6"/><circle cx="613.4" cy="22.1" r="0.6"/><circle cx="551.6" cy="63" r="0.7"/><circle cx="615.3" cy="15.8" r="0.8"/><circle cx="539.8" cy="59.1" r="0.8"/><circle cx="637.6" cy="15.8" r="0.8"/><circle cx="603.3" cy="4.6" r="0.8"/><circle cx="637.5" cy="8.5" r="0.9"/><circle cx="600.3" cy="62.7" r="0.7"/><circle cx="594" cy="42.5" r="0.5"/><circle cx="649.8" cy="16.5" r="0.9"/><circle cx="616.1" cy="56.5" r="0.7"/><circle cx="541" cy="38.9" r="0.5"/><circle cx="635.8" cy="45.2" r="0.7"/><circle cx="625.9" cy="18.4" r="0.7"/><circle cx="590.1" cy="27" r="0.8"/><circle cx="600.8" cy="46.1" r="0.9"/><circle cx="641.9" cy="69.3" r="0.6"/><circle cx="593.9" cy="5.1" r="0.5"/><circle cx="549.2" cy="26.8" r="0.9"/><circle cx="656.7" cy="55.7" r="0.9"/><circle cx="661.2" cy="8.2" r="0.7"/><circle cx="577.7" cy="7.9" r="0.7"/><circle cx="579.8" cy="50.2" r="0.6"/><circle cx="584.6" cy="66.6" r="1"/><circle cx="565.1" cy="12.9" r="0.8"/></g><g fill="#aeaeae"><circle cx="653.6" cy="41.9" r="1.6"/><circle cx="609" cy="72.3" r="1.6"/><circle cx="620.1" cy="66.1" r="1.2"/><circle cx="644.1" cy="23.3" r="1.6"/><circle cx="596" cy="39.4" r="1.5"/><circle cx="559.9" cy="41.1" r="0.8"/><circle cx="610.8" cy="86.3" r="0.9"/><circle cx="576.7" cy="44.8" r="0.8"/><circle cx="544.6" cy="43.1" r="1.3"/><circle cx="627" cy="29.1" r="0.8"/><circle cx="664.4" cy="43.8" r="1.1"/><circle cx="557.2" cy="55.6" r="1.2"/><circle cx="607.1" cy="39.9" r="1.1"/><circle cx="556.9" cy="53.4" r="1.5"/><circle cx="604" cy="40.9" r="1.1"/><circle cx="644.6" cy="21.8" r="1.1"/><circle cx="610.4" cy="64.2" r="0.8"/><circle cx="644.3" cy="11.1" r="1"/><circle cx="558.8" cy="52.1" r="1.6"/><circle cx="550" cy="55.5" r="1"/><circle cx="572.2" cy="41.6" r="1.3"/><circle cx="560" cy="20" r="1.4"/><circle cx="575.2" cy="53.1" r="1.1"/><circle cx="554.7" cy="60.6" r="1.3"/><circle cx="616.9" cy="55.8" r="0.8"/><circle cx="592.9" cy="39.4" r="1.3"/><circle cx="568.4" cy="44.1" r="1.6"/><circle cx="590.6" cy="41.8" r="1.4"/><circle cx="607.7" cy="36.3" r="1"/><circle cx="589.4" cy="41.7" r="1.4"/><circle cx="554.1" cy="48.1" r="1.5"/><circle cx="653.7" cy="34.2" r="1.1"/><circle cx="569.9" cy="44.2" r="0.8"/><circle cx="589.7" cy="66.4" r="1.4"/><circle cx="584" cy="5.6" r="1.4"/><circle cx="584" cy="5.9" r="1.5"/><circle cx="573.5" cy="39.9" r="1.5"/><circle cx="656.4" cy="33.5" r="1"/><circle cx="568.8" cy="50" r="1.1"/><circle cx="644.3" cy="24.2" r="1.6"/><circle cx="645" cy="60.6" r="1"/><circle cx="561.9" cy="15.7" r="1.3"/><circle cx="581.9" cy="20.2" r="1.3"/><circle cx="649.7" cy="38.6" r="1.1"/><circle cx="642.8" cy="7.7" r="1.3"/><circle cx="559" cy="53.2" r="1.2"/><circle cx="576.9" cy="24.4" r="1.2"/><circle cx="587.4" cy="44.9" r="1.3"/><circle cx="588.2" cy="47.5" r="1.5"/><circle cx="608.8" cy="40.8" r="0.8"/><circle cx="619.3" cy="62.5" r="0.9"/><circle cx="612.3" cy="45.2" r="1.6"/><circle cx="596.1" cy="40.8" r="1.3"/><circle cx="659.2" cy="38.4" r="1.3"/><circle cx="559.3" cy="34.2" r="1.4"/><circle cx="620.1" cy="48.4" r="1.5"/><circle cx="593.7" cy="32.8" r="0.9"/><circle cx="558.9" cy="41.6" r="0.8"/><circle cx="647" cy="24.5" r="1.4"/><circle cx="551.3" cy="83.4" r="1.5"/><circle cx="615.5" cy="79.1" r="1.3"/><circle cx="562.4" cy="70.5" r="0.8"/><circle cx="635.2" cy="18.4" r="0.8"/><circle cx="564.7" cy="52.9" r="1"/><circle cx="646.6" cy="34.4" r="1"/><circle cx="553.6" cy="60.2" r="1.3"/><circle cx="562.1" cy="42.9" r="1"/><circle cx="656.9" cy="28.2" r="1.6"/><circle cx="610.8" cy="49.3" r="1.2"/><circle cx="577.4" cy="15.6" r="1"/><circle cx="661.6" cy="25.2" r="1.4"/><circle cx="594.9" cy="36" r="1.6"/><circle cx="553.7" cy="57.2" r="0.8"/><circle cx="624.4" cy="22.2" r="0.8"/><circle cx="626.8" cy="34.8" r="1.4"/><circle cx="590.4" cy="39.7" r="0.9"/><circle cx="593.1" cy="38.2" r="1.5"/><circle cx="555.1" cy="56.2" r="1.5"/><circle cx="625.1" cy="54.8" r="1.3"/><circle cx="612.2" cy="54.9" r="1.1"/><circle cx="583.1" cy="20.5" r="1.2"/><circle cx="635.2" cy="68.2" r="0.9"/><circle cx="571.1" cy="49" r="0.9"/><circle cx="651.3" cy="22.2" r="0.9"/><circle cx="641.3" cy="64.4" r="1.2"/><circle cx="659.7" cy="41.8" r="1.6"/><circle cx="611" cy="18.3" r="1.3"/><circle cx="658.9" cy="50.7" r="0.9"/><circle cx="609.5" cy="15.2" r="1.3"/><circle cx="565.1" cy="51.3" r="1.5"/><circle cx="624.3" cy="44.9" r="1.2"/><circle cx="596" cy="38.4" r="1.1"/><circle cx="649.5" cy="39.2" r="1.1"/><circle cx="655.5" cy="37.6" r="1"/><circle cx="621.3" cy="23.6" r="1.4"/><circle cx="562.7" cy="51.7" r="1.5"/><circle cx="578.5" cy="39.2" r="1.1"/><circle cx="575.5" cy="39" r="0.8"/><circle cx="584.7" cy="20.6" r="1"/><circle cx="608.4" cy="56.9" r="0.9"/><circle cx="559" cy="51.2" r="0.9"/><circle cx="596.7" cy="42.8" r="0.9"/><circle cx="645.8" cy="59.1" r="0.8"/><circle cx="645.8" cy="24.6" r="1.4"/><circle cx="622.3" cy="35" r="1"/><circle cx="621.1" cy="56.4" r="1.1"/><circle cx="583.9" cy="66.8" r="1.6"/><circle cx="605.2" cy="43.5" r="1.5"/><circle cx="561.7" cy="43.2" r="1.2"/><circle cx="652.3" cy="41.3" r="1.5"/><circle cx="578.3" cy="59.8" r="1.4"/><circle cx="646.9" cy="41.1" r="0.9"/><circle cx="585.8" cy="48.3" r="0.8"/><circle cx="623.6" cy="31.3" r="1.1"/><circle cx="546.7" cy="60.3" r="1"/><circle cx="636.5" cy="41.2" r="1.1"/><circle cx="593" cy="44.2" r="1.1"/><circle cx="584.4" cy="7" r="1.2"/><circle cx="609.4" cy="22.4" r="1.1"/><circle cx="552.1" cy="54.5" r="0.9"/><circle cx="601" cy="47.9" r="0.9"/><circle cx="586.1" cy="47.9" r="1.3"/><circle cx="655.9" cy="46.2" r="1"/><circle cx="648.7" cy="61" r="1.1"/><circle cx="546.8" cy="38.5" r="1.2"/><circle cx="577.9" cy="61.6" r="1.4"/><circle cx="568.4" cy="45.1" r="1.5"/><circle cx="566.2" cy="58.5" r="1.6"/><circle cx="550.7" cy="81.6" r="1.1"/><circle cx="596.8" cy="33.8" r="0.9"/><circle cx="577.1" cy="36.5" r="1.4"/><circle cx="590.1" cy="55.2" r="1.3"/><circle cx="604.6" cy="21.5" r="1.4"/><circle cx="551.6" cy="85.5" r="1.6"/><circle cx="585.8" cy="48.7" r="1.3"/><circle cx="614.7" cy="47.1" r="0.9"/><circle cx="630.4" cy="39.8" r="1.2"/><circle cx="588.4" cy="42.5" r="1.5"/><circle cx="549.6" cy="54.3" r="1.4"/><circle cx="585.5" cy="52.7" r="1.6"/><circle cx="607.4" cy="44.5" r="1.6"/><circle cx="544.5" cy="27" r="1.2"/><circle cx="590.1" cy="43" r="1.2"/><circle cx="649.8" cy="38.8" r="1.4"/><circle cx="563.2" cy="36.9" r="1.2"/><circle cx="616.5" cy="36.6" r="1"/><circle cx="565.9" cy="11.7" r="1.5"/><circle cx="573.2" cy="54.2" r="1.2"/><circle cx="649.4" cy="32.1" r="1.4"/><circle cx="616.2" cy="37" r="1.4"/><circle cx="604.4" cy="49.7" r="1.4"/><circle cx="626.2" cy="47" r="1.1"/><circle cx="570.2" cy="31.9" r="0.9"/><circle cx="621.3" cy="77.6" r="1.5"/><circle cx="546.9" cy="65.7" r="1.5"/><circle cx="645.2" cy="22" r="1.2"/><circle cx="612.1" cy="46.1" r="1.4"/><circle cx="569.4" cy="53.6" r="1.1"/><circle cx="588.4" cy="44.1" r="0.9"/><circle cx="591.4" cy="34" r="1.3"/><circle cx="644.7" cy="65.1" r="0.9"/><circle cx="579.3" cy="43.7" r="1.3"/><circle cx="602.9" cy="45" r="0.9"/><circle cx="582.2" cy="60.2" r="1.5"/><circle cx="619.4" cy="19.2" r="1.4"/><circle cx="538.6" cy="27.1" r="1.5"/><circle cx="603.1" cy="47.9" r="1.3"/><circle cx="565.9" cy="62.5" r="1.2"/><circle cx="623.6" cy="56.2" r="1.2"/><circle cx="584.3" cy="54.4" r="0.8"/><circle cx="639.3" cy="71.7" r="1.5"/><circle cx="625.1" cy="48.6" r="1"/><circle cx="582.2" cy="70.6" r="1"/><circle cx="625.2" cy="75.2" r="1.4"/><circle cx="603.2" cy="44.4" r="1.1"/><circle cx="610.1" cy="29" r="0.7"/><circle cx="605.9" cy="78.8" r="0.8"/><circle cx="548.7" cy="37.1" r="0.7"/><circle cx="545.9" cy="7.5" r="0.8"/><circle cx="545.9" cy="66.2" r="0.9"/><circle cx="640.1" cy="22" r="0.6"/><circle cx="602" cy="42.9" r="0.5"/><circle cx="554.6" cy="27.2" r="0.7"/><circle cx="642.4" cy="55.7" r="0.7"/><circle cx="601.7" cy="61.2" r="0.8"/><circle cx="574.3" cy="14.1" r="1"/><circle cx="592.9" cy="13" r="1"/><circle cx="552.4" cy="14.8" r="0.8"/><circle cx="650.4" cy="67" r="0.8"/><circle cx="558.5" cy="55.8" r="0.8"/><circle cx="580.3" cy="42.2" r="0.8"/><circle cx="559.1" cy="76.1" r="0.6"/><circle cx="646.8" cy="52.5" r="0.7"/><circle cx="647.7" cy="20.6" r="0.8"/><circle cx="642.2" cy="24.3" r="0.6"/><circle cx="603.2" cy="12.8" r="0.7"/><circle cx="651.6" cy="76.4" r="0.7"/><circle cx="608.4" cy="11.1" r="0.7"/><circle cx="598.3" cy="78.9" r="0.6"/></g><g fill="#bababa"><circle cx="555.4" cy="45.9" r="0.8"/><circle cx="645.8" cy="18.7" r="1.2"/><circle cx="645.8" cy="44.6" r="0.8"/><circle cx="638.2" cy="85.3" r="1.4"/><circle cx="654.8" cy="37.5" r="0.9"/><circle cx="622.1" cy="74.1" r="1.5"/><circle cx="645.2" cy="66.2" r="0.9"/><circle cx="551.8" cy="56.2" r="1"/><circle cx="583.4" cy="38.9" r="1.2"/><circle cx="597.8" cy="39.9" r="1.4"/><circle cx="580.6" cy="46.9" r="1.2"/><circle cx="550.2" cy="68.6" r="0.9"/><circle cx="643.6" cy="42.7" r="1.2"/><circle cx="633" cy="28.4" r="0.9"/><circle cx="565.4" cy="51.2" r="0.8"/><circle cx="586.7" cy="45.2" r="1"/><circle cx="641.9" cy="40.2" r="1.1"/><circle cx="554.4" cy="64.4" r="1.5"/><circle cx="546.3" cy="27.2" r="1.5"/><circle cx="616.8" cy="80" r="1.5"/><circle cx="657" cy="31.1" r="1.3"/><circle cx="565" cy="63.1" r="1.4"/><circle cx="645.8" cy="34.1" r="1.4"/><circle cx="589.9" cy="40.3" r="1.1"/><circle cx="554.8" cy="94.5" r="0.8"/><circle cx="571.1" cy="59.2" r="1.1"/><circle cx="654.5" cy="20.8" r="1.3"/><circle cx="640.5" cy="23.8" r="1.5"/><circle cx="610.4" cy="34.9" r="1.4"/><circle cx="633.8" cy="32.1" r="1"/><circle cx="603.6" cy="42" r="0.8"/><circle cx="559.8" cy="56.9" r="0.8"/><circle cx="624.7" cy="58.3" r="1.4"/><circle cx="607.8" cy="45" r="1.4"/><circle cx="626.5" cy="22.7" r="1.5"/><circle cx="604.2" cy="49.5" r="1"/><circle cx="619.4" cy="30.8" r="1.5"/><circle cx="616.7" cy="16.6" r="1.2"/><circle cx="589.1" cy="43.6" r="1.5"/><circle cx="562" cy="41.1" r="1.3"/><circle cx="564.9" cy="67" r="1.3"/><circle cx="572.4" cy="44" r="1.2"/><circle cx="638.3" cy="48.4" r="0.9"/><circle cx="609" cy="41.7" r="1.1"/><circle cx="653" cy="47.4" r="1.1"/><circle cx="606.5" cy="24.5" r="1"/><circle cx="599.9" cy="42.1" r="1.1"/><circle cx="638.1" cy="39.3" r="0.9"/><circle cx="655.1" cy="45.8" r="1.2"/><circle cx="576.9" cy="60.9" r="1.3"/><circle cx="650.9" cy="35.5" r="0.8"/><circle cx="576.9" cy="56" r="0.9"/><circle cx="633.5" cy="45.9" r="1.1"/><circle cx="567" cy="41.7" r="1.3"/><circle cx="550" cy="57.1" r="0.8"/><circle cx="558.4" cy="55.3" r="1"/><circle cx="634.3" cy="28.2" r="1.3"/><circle cx="658.2" cy="29.8" r="1"/><circle cx="636.4" cy="5.6" r="1.5"/><circle cx="554.3" cy="55.4" r="1.4"/><circle cx="650.8" cy="31" r="1.2"/><circle cx="576.4" cy="50.5" r="0.9"/><circle cx="615.1" cy="55.2" r="1.1"/><circle cx="556.4" cy="64.1" r="1.3"/><circle cx="578.7" cy="58.9" r="1.6"/><circle cx="576.3" cy="69.5" r="1"/><circle cx="592.4" cy="44.6" r="0.8"/><circle cx="573.6" cy="50.6" r="1.1"/><circle cx="557.2" cy="55.6" r="0.9"/><circle cx="544.4" cy="27.7" r="1.2"/><circle cx="550.5" cy="71.7" r="0.9"/><circle cx="636" cy="43.1" r="0.9"/><circle cx="583.8" cy="68.4" r="0.9"/><circle cx="557.1" cy="53.4" r="1.1"/><circle cx="656" cy="40.2" r="1.3"/><circle cx="593.2" cy="45" r="0.8"/><circle cx="545.3" cy="56.3" r="1.5"/><circle cx="660.2" cy="52.5" r="1.2"/><circle cx="598.5" cy="36" r="0.9"/><circle cx="571.5" cy="50.7" r="1.3"/><circle cx="607.3" cy="44" r="0.8"/><circle cx="558.1" cy="64.1" r="1.4"/><circle cx="574.4" cy="44.8" r="0.9"/><circle cx="570.7" cy="22.3" r="1.3"/><circle cx="560.2" cy="43.6" r="1.1"/><circle cx="606.6" cy="20.2" r="1.5"/><circle cx="591.6" cy="41.6" r="1.6"/><circle cx="587.6" cy="48" r="1.2"/><circle cx="585.6" cy="38.3" r="0.9"/><circle cx="644.9" cy="29.4" r="1.2"/><circle cx="588" cy="42.6" r="1.6"/><circle cx="554.3" cy="58.9" r="1.4"/><circle cx="561.5" cy="26" r="1.4"/><circle cx="648.4" cy="33" r="1.4"/><circle cx="558.3" cy="57.9" r="1.1"/><circle cx="626" cy="53" r="0.9"/><circle cx="562.3" cy="23.4" r="1.3"/><circle cx="569.9" cy="58.9" r="1"/><circle cx="612.4" cy="54.2" r="1.2"/><circle cx="639.2" cy="86" r="1.2"/><circle cx="633.1" cy="2.9" r="0.9"/><circle cx="564.3" cy="56.5" r="1.6"/><circle cx="609.9" cy="13.2" r="1.1"/><circle cx="650.3" cy="39.6" r="0.9"/><circle cx="640.2" cy="25.1" r="0.9"/><circle cx="565.2" cy="20.8" r="1"/><circle cx="556.1" cy="92.4" r="1.6"/><circle cx="582.8" cy="22.2" r="1"/><circle cx="565.2" cy="63.1" r="1.4"/><circle cx="615.4" cy="59.5" r="0.9"/><circle cx="567" cy="62.2" r="1.5"/><circle cx="559.4" cy="76.7" r="1.2"/><circle cx="621.4" cy="28.8" r="1.1"/><circle cx="562.7" cy="57.1" r="1.5"/><circle cx="559.8" cy="19.4" r="1.5"/><circle cx="537.5" cy="32.1" r="1.1"/><circle cx="641.3" cy="36.9" r="1"/><circle cx="563.5" cy="53.5" r="0.9"/><circle cx="544.9" cy="42" r="1.2"/><circle cx="547.4" cy="46.5" r="1.3"/><circle cx="602.6" cy="38.1" r="1.1"/><circle cx="586.8" cy="49.2" r="1.2"/><circle cx="555.9" cy="33.4" r="1"/><circle cx="588" cy="22.3" r="1.4"/><circle cx="549.5" cy="56.2" r="1.1"/><circle cx="594.7" cy="45.2" r="1.1"/><circle cx="638.2" cy="39.8" r="1.5"/><circle cx="659.2" cy="40.7" r="1.5"/><circle cx="601.5" cy="43.1" r="1.5"/><circle cx="586.2" cy="40.8" r="1.3"/><circle cx="646.3" cy="36.8" r="0.9"/><circle cx="607.4" cy="63.9" r="0.9"/><circle cx="563.4" cy="32.5" r="1.2"/><circle cx="644.3" cy="39" r="0.8"/><circle cx="567.5" cy="26.6" r="1.6"/><circle cx="548.4" cy="43.8" r="1"/><circle cx="562.7" cy="52.3" r="1.1"/><circle cx="632.5" cy="28.2" r="1.1"/><circle cx="574.5" cy="34.7" r="1.2"/><circle cx="559.5" cy="52.6" r="1.4"/><circle cx="585.6" cy="46.6" r="1.6"/><circle cx="575.7" cy="21.9" r="0.8"/><circle cx="580.9" cy="49.7" r="0.9"/><circle cx="612.5" cy="12.9" r="1.2"/><circle cx="573.1" cy="32" r="1.5"/><circle cx="608" cy="57.1" r="0.9"/><circle cx="619" cy="55.5" r="1"/><circle cx="569.7" cy="30.5" r="0.9"/><circle cx="645.3" cy="40.5" r="1.2"/><circle cx="614.9" cy="50.8" r="0.8"/><circle cx="640.4" cy="80.3" r="1.5"/><circle cx="640.8" cy="42.1" r="1.4"/><circle cx="627.7" cy="42.6" r="1.3"/></g><g fill="#c6c6c6"><circle cx="558.7" cy="64.3" r="1.5"/><circle cx="563.1" cy="54" r="1"/><circle cx="600.6" cy="41.3" r="1.2"/><circle cx="541.9" cy="56.5" r="1.4"/><circle cx="547.9" cy="47.5" r="1.2"/><circle cx="658.3" cy="52.4" r="1.6"/><circle cx="646.1" cy="38.2" r="1.3"/><circle cx="619.9" cy="55.4" r="1.4"/><circle cx="641.3" cy="10.5" r="0.9"/><circle cx="606.6" cy="48.3" r="0.9"/><circle cx="570.4" cy="35.5" r="1.2"/><circle cx="632.9" cy="39" r="1.3"/><circle cx="617.3" cy="68.1" r="0.8"/><circle cx="654.9" cy="27.3" r="1.3"/><circle cx="600.6" cy="50.2" r="1.2"/><circle cx="628.8" cy="34.1" r="1"/><circle cx="640.6" cy="41.6" r="1.1"/><circle cx="578.8" cy="59.2" r="0.9"/><circle cx="617.9" cy="39.8" r="1.2"/><circle cx="650.1" cy="29.7" r="0.9"/><circle cx="587.8" cy="65" r="1"/><circle cx="561.6" cy="56.1" r="1.1"/><circle cx="609.3" cy="40.6" r="1.4"/><circle cx="564.6" cy="57.1" r="1.6"/><circle cx="595.9" cy="42.7" r="1.1"/><circle cx="630.6" cy="39.7" r="0.8"/><circle cx="612.2" cy="23" r="1.5"/><circle cx="553.1" cy="74.1" r="0.9"/><circle cx="644.2" cy="26.6" r="1.1"/><circle cx="572.6" cy="36.8" r="1.1"/><circle cx="586.5" cy="36.6" r="1.1"/><circle cx="647.3" cy="22.2" r="1.5"/><circle cx="596.1" cy="38.4" r="0.8"/><circle cx="607.5" cy="57.3" r="1.6"/><circle cx="610.4" cy="63.1" r="1.5"/></g></g></g><text x="602.3" y="16.1" text-anchor="middle" fill="#fff" style="font-family:'Liberation Sans',sans-serif;font-weight:bold;font-size:10.7px">CIP</text><rect x="627.8" y="76.4" width="30.6" height="3.3" fill="#fff"/><text transform="translate(643.7,71.6) scale(1.12,1)" text-anchor="middle" fill="#fff" style="font-family:'Liberation Sans',sans-serif;font-size:9px">10 μm</text><g clip-path="url(#c10)"><rect x="411.3" y="88.3" width="123.7" height="81.6" filter="url(#n10)"/><g filter="url(#bl)"><g fill="#727272"><circle cx="527.2" cy="116.6" r="0.9"/><circle cx="458.4" cy="118.8" r="1.3"/><circle cx="512.8" cy="164.9" r="1.2"/><circle cx="455.6" cy="98.7" r="1"/><circle cx="474" cy="125" r="1.1"/><circle cx="476" cy="100.7" r="1.1"/><circle cx="466.1" cy="135.7" r="1.1"/><circle cx="433.2" cy="96.4" r="1.3"/><circle cx="514.1" cy="89" r="1"/><circle cx="529.4" cy="143.7" r="1"/></g><g fill="#7e7e7e"><circle cx="457.1" cy="116.3" r="1"/><circle cx="459.8" cy="120.6" r="1.4"/><circle cx="418" cy="133.2" r="1.1"/><circle cx="459.6" cy="117.9" r="0.9"/><circle cx="475.2" cy="122.8" r="0.8"/><circle cx="414.3" cy="138" r="1"/><circle cx="526.9" cy="117.7" r="1.4"/><circle cx="459.4" cy="167.7" r="0.9"/><circle cx="478.6" cy="101.5" r="0.9"/><circle cx="417" cy="93.9" r="1"/><circle cx="459.1" cy="94.8" r="0.9"/><circle cx="513.2" cy="161.6" r="1.4"/><circle cx="459.1" cy="118.8" r="1"/><circle cx="459" cy="113.8" r="1.3"/><circle cx="457.3" cy="168.3" r="1.1"/></g><g fill="#8a8a8a"><circle cx="459.2" cy="172.8" r="0.9"/><circle cx="463.1" cy="131.6" r="1.4"/><circle cx="458.8" cy="102.7" r="1.2"/><circle cx="513.5" cy="162.1" r="0.9"/><circle cx="430" cy="96.4" r="1.3"/><circle cx="531.7" cy="146" r="1.2"/><circle cx="522.6" cy="91" r="1.1"/><circle cx="525.3" cy="122" r="0.9"/><circle cx="528.3" cy="138.2" r="1.2"/><circle cx="412.5" cy="91.6" r="1.1"/><circle cx="528.3" cy="144.3" r="0.8"/><circle cx="457.8" cy="115.7" r="1.1"/><circle cx="479.6" cy="122.7" r="0.9"/><circle cx="431.3" cy="101.1" r="0.8"/></g><g fill="#969696"><circle cx="411" cy="135.4" r="0.8"/><circle cx="428.7" cy="97.9" r="1.4"/><circle cx="472.3" cy="119.5" r="1.1"/><circle cx="528.7" cy="144.9" r="1.1"/><circle cx="498.5" cy="123.6" r="1.2"/><circle cx="480.8" cy="104.7" r="1.3"/><circle cx="480.6" cy="102" r="0.9"/><circle cx="457" cy="97.3" r="1.2"/><circle cx="415.6" cy="91.7" r="1"/><circle cx="464" cy="134.2" r="1"/><circle cx="528.3" cy="142.6" r="1.2"/><circle cx="413.3" cy="93.2" r="0.9"/><circle cx="478.2" cy="104" r="1.4"/><circle cx="456.8" cy="97.7" r="1.2"/></g><g fill="#a2a2a2"><circle cx="469.4" cy="146.6" r="1"/><circle cx="427.6" cy="118.7" r="1.2"/><circle cx="479" cy="98.7" r="1.1"/><circle cx="474.7" cy="115.9" r="1"/><circle cx="418.5" cy="124.7" r="0.7"/><circle cx="464.6" cy="106.4" r="1.2"/><circle cx="463.4" cy="137" r="1.1"/><circle cx="417.8" cy="98.3" r="1.2"/><circle cx="519.7" cy="159.6" r="0.9"/><circle cx="436.9" cy="158.7" r="0.8"/><circle cx="480.7" cy="103.5" r="1"/><circle cx="513.1" cy="157.9" r="1.4"/><circle cx="475.2" cy="122.4" r="1"/><circle cx="527.7" cy="145.8" r="1"/><circle cx="457.1" cy="120" r="1"/><circle cx="478.7" cy="103.3" r="1.1"/><circle cx="411.3" cy="135.6" r="1.1"/><circle cx="465.3" cy="133.1" r="1.2"/><circle cx="474.5" cy="123" r="1.1"/><circle cx="413.4" cy="91" r="1.1"/><circle cx="455.7" cy="169.1" r="1.1"/><circle cx="459.1" cy="96" r="1.3"/><circle cx="524.2" cy="120" r="0.9"/><circle cx="528.9" cy="117.2" r="1"/><circle cx="459.3" cy="169.9" r="1.4"/></g><g fill="#aeaeae"><circle cx="416.4" cy="167.9" r="1.2"/><circle cx="453.2" cy="94.7" r="1.1"/><circle cx="507.7" cy="124.8" r="1.1"/><circle cx="469.1" cy="145.6" r="1.1"/><circle cx="442" cy="142.3" r="0.9"/><circle cx="462.8" cy="157.2" r="0.7"/><circle cx="458.6" cy="143.8" r="0.8"/><circle cx="525.7" cy="134.2" r="0.9"/><circle cx="484.2" cy="161.1" r="0.8"/><circle cx="465.4" cy="142.2" r="0.7"/><circle cx="533.7" cy="138.9" r="1.1"/><circle cx="414.1" cy="123.4" r="1"/><circle cx="469.7" cy="147" r="1.1"/><circle cx="423.9" cy="104.4" r="1.2"/><circle cx="441.7" cy="91.3" r="0.8"/><circle cx="533.6" cy="168.8" r="0.9"/><circle cx="483" cy="135" r="0.8"/><circle cx="493.4" cy="126" r="1"/><circle cx="485.4" cy="126.6" r="1.2"/><circle cx="497" cy="93.8" r="1.2"/><circle cx="454.3" cy="118.4" r="1.1"/><circle cx="490.7" cy="99.5" r="1.1"/><circle cx="431.7" cy="163.1" r="1.1"/><circle cx="431.6" cy="93.1" r="1.2"/><circle cx="444.8" cy="166.1" r="1"/><circle cx="519.2" cy="113" r="1.1"/><circle cx="465.3" cy="157.5" r="0.8"/><circle cx="466.3" cy="160.9" r="1.1"/><circle cx="424.2" cy="154.1" r="1.2"/><circle cx="412.4" cy="109.4" r="1"/><circle cx="475.6" cy="107.2" r="0.7"/><circle cx="491.9" cy="109.7" r="1.2"/><circle cx="528.3" cy="158.2" r="1.1"/><circle cx="460.8" cy="120.6" r="0.9"/><circle cx="521.4" cy="103.3" r="1"/><circle cx="522" cy="126.1" r="0.9"/><circle cx="520.6" cy="149" r="1"/><circle cx="453.3" cy="139.7" r="0.9"/><circle cx="529.9" cy="129.1" r="1"/><circle cx="424.1" cy="139.6" r="1"/><circle cx="520.5" cy="140.1" r="1"/><circle cx="502.1" cy="113.1" r="1.2"/><circle cx="504.2" cy="128.1" r="1.2"/><circle cx="532.5" cy="168.1" r="0.8"/><circle cx="466.7" cy="154.1" r="1"/><circle cx="456.1" cy="157.7" r="1.2"/><circle cx="448.9" cy="139.1" r="0.7"/><circle cx="484.2" cy="138.2" r="1"/><circle cx="511.9" cy="92.9" r="0.9"/><circle cx="461.9" cy="94.6" r="1.1"/><circle cx="533.1" cy="110.1" r="1"/><circle cx="446.2" cy="130.2" r="1.2"/><circle cx="456.6" cy="130.5" r="1.2"/><circle cx="463.3" cy="139.1" r="0.8"/><circle cx="472.4" cy="158.5" r="0.9"/><circle cx="448.8" cy="135.8" r="0.9"/><circle cx="483.2" cy="103.7" r="1.1"/><circle cx="494.1" cy="131.4" r="1.2"/><circle cx="516.2" cy="159.5" r="0.9"/><circle cx="423.4" cy="157.7" r="1"/><circle cx="439.6" cy="92.1" r="0.8"/><circle cx="523.2" cy="148" r="0.9"/><circle cx="482.9" cy="100.4" r="1.1"/><circle cx="417.9" cy="115.2" r="1"/><circle cx="441" cy="130.7" r="1"/><circle cx="451.3" cy="97.6" r="1"/><circle cx="426.1" cy="91.3" r="1"/><circle cx="465.7" cy="106" r="1.2"/><circle cx="413.6" cy="108.7" r="1.2"/><circle cx="436.7" cy="158.8" r="1"/><circle cx="449" cy="157.9" r="1.2"/><circle cx="444.1" cy="143.3" r="1.1"/><circle cx="508.7" cy="143.6" r="1.1"/><circle cx="471.2" cy="124.3" r="1"/><circle cx="461.2" cy="115.4" r="1.1"/></g><g fill="#bababa"><circle cx="503.8" cy="103.9" r="0.9"/><circle cx="437.2" cy="109.4" r="0.9"/><circle cx="420.6" cy="153.7" r="0.8"/><circle cx="440.4" cy="162.3" r="1.1"/><circle cx="425.8" cy="154.2" r="0.8"/><circle cx="430.2" cy="159.6" r="0.7"/><circle cx="515.1" cy="131.8" r="0.9"/><circle cx="532.9" cy="123.6" r="1.1"/><circle cx="508" cy="148.3" r="0.8"/><circle cx="427" cy="91.2" r="1.1"/><circle cx="492.2" cy="122.8" r="0.9"/><circle cx="489.7" cy="130.7" r="1"/><circle cx="431.3" cy="90.1" r="1.2"/><circle cx="501.9" cy="97.4" r="0.9"/><circle cx="514.4" cy="143.1" r="1.1"/><circle cx="528.8" cy="90.2" r="1"/><circle cx="422.1" cy="155.7" r="0.9"/><circle cx="448.5" cy="148.2" r="0.7"/><circle cx="412" cy="93.1" r="0.9"/><circle cx="511" cy="156" r="1.2"/><circle cx="443.9" cy="116.7" r="0.8"/><circle cx="418.7" cy="135" r="1.2"/><circle cx="436.8" cy="109.2" r="1.2"/><circle cx="433.9" cy="88.3" r="1.2"/><circle cx="512.8" cy="105.5" r="0.7"/><circle cx="532.1" cy="132.6" r="1.1"/><circle cx="450.5" cy="156.2" r="0.9"/><circle cx="532.4" cy="154.6" r="1.2"/><circle cx="493.8" cy="95.7" r="0.9"/><circle cx="452.8" cy="123.7" r="0.8"/><circle cx="495.1" cy="145.9" r="0.8"/><circle cx="514.6" cy="143.9" r="1.1"/><circle cx="413.8" cy="159.5" r="0.8"/><circle cx="422.8" cy="121.1" r="0.8"/><circle cx="488.7" cy="97.8" r="0.9"/><circle cx="430.6" cy="121.8" r="0.8"/><circle cx="422.8" cy="140.3" r="1.2"/><circle cx="467.5" cy="123.7" r="0.9"/><circle cx="503.7" cy="117.8" r="0.8"/><circle cx="464.2" cy="98.4" r="0.7"/><circle cx="419.4" cy="113.1" r="0.9"/><circle cx="510.5" cy="139.2" r="1.2"/><circle cx="435.2" cy="100.3" r="0.9"/><circle cx="457.5" cy="136.4" r="1.2"/><circle cx="473" cy="162.7" r="0.8"/><circle cx="496.6" cy="107.5" r="0.8"/><circle cx="413.8" cy="128.4" r="1"/><circle cx="530.8" cy="106.6" r="1.1"/><circle cx="519.7" cy="129.4" r="1.2"/><circle cx="475.3" cy="99.5" r="0.8"/><circle cx="416.5" cy="133.6" r="0.8"/><circle cx="473.2" cy="157.1" r="0.9"/><circle cx="433.1" cy="163.1" r="0.9"/><circle cx="530.3" cy="95.8" r="0.8"/></g><g fill="#c6c6c6"><circle cx="514.6" cy="136.4" r="0.9"/><circle cx="461.8" cy="132.1" r="0.9"/><circle cx="461.6" cy="155.8" r="0.8"/><circle cx="433.5" cy="99.1" r="1"/><circle cx="447.6" cy="98" r="1"/><circle cx="501.5" cy="158.7" r="1.1"/><circle cx="456.6" cy="89.7" r="1"/><circle cx="518.7" cy="113.2" r="1.1"/><circle cx="498.9" cy="157.6" r="0.8"/><circle cx="475.1" cy="157.7" r="0.7"/><circle cx="413.2" cy="106.9" r="0.9"/><circle cx="457.9" cy="160.7" r="0.9"/><circle cx="520.6" cy="119.5" r="1"/><circle cx="449.1" cy="92" r="0.8"/><circle cx="509.1" cy="126" r="0.9"/><circle cx="526.8" cy="101.1" r="1.1"/><circle cx="522.2" cy="114.2" r="1.1"/><circle cx="484.8" cy="165" r="0.8"/><circle cx="518.1" cy="97.6" r="1.1"/><circle cx="472" cy="90.2" r="0.8"/><circle cx="425.9" cy="144.2" r="1.2"/><circle cx="435.1" cy="155" r="1.2"/><circle cx="489.9" cy="164.5" r="0.8"/><circle cx="522" cy="97.9" r="1"/><circle cx="466.2" cy="97" r="1.2"/><circle cx="436" cy="127.5" r="1.1"/><circle cx="493.4" cy="152.7" r="1.2"/><circle cx="505.7" cy="96.7" r="1.1"/><circle cx="473.9" cy="155" r="1.1"/><circle cx="420" cy="111.9" r="1.2"/><circle cx="447.1" cy="135.2" r="0.7"/><circle cx="422.9" cy="130.4" r="0.9"/><circle cx="485.3" cy="108" r="0.9"/><circle cx="422.3" cy="161.1" r="1"/><circle cx="508.6" cy="96" r="1.2"/><circle cx="441" cy="136.7" r="1"/><circle cx="520.7" cy="127.9" r="0.8"/><circle cx="440" cy="99.6" r="0.7"/><circle cx="472.3" cy="118.8" r="0.8"/><circle cx="450.3" cy="166.5" r="1"/><circle cx="423.4" cy="142" r="1"/><circle cx="473.7" cy="90.3" r="1.1"/><circle cx="470" cy="161.5" r="0.9"/><circle cx="449.3" cy="107.5" r="1.2"/><circle cx="521" cy="153.5" r="1.1"/><circle cx="416.3" cy="160" r="1.2"/><circle cx="495.2" cy="154.1" r="1"/><circle cx="526.7" cy="88.8" r="1.2"/><circle cx="484" cy="123.8" r="0.9"/><circle cx="463.1" cy="112.1" r="0.8"/><circle cx="480.2" cy="147.3" r="0.7"/><circle cx="517.8" cy="121.2" r="1.1"/><circle cx="440.5" cy="154.3" r="1"/><circle cx="485.3" cy="105.4" r="1.2"/><circle cx="505.3" cy="122" r="1.1"/><circle cx="493.6" cy="107.1" r="1"/><circle cx="416.9" cy="116.3" r="0.7"/><circle cx="489.4" cy="130.5" r="0.8"/><circle cx="473.5" cy="167.5" r="1.1"/><circle cx="448" cy="139.3" r="1.1"/><circle cx="434.5" cy="102.8" r="0.8"/><circle cx="493" cy="109" r="1.2"/><circle cx="481.3" cy="131.4" r="0.8"/><circle cx="490" cy="143.4" r="0.8"/><circle cx="506.7" cy="102.6" r="1.1"/><circle cx="421.8" cy="97.7" r="1.2"/><circle cx="429" cy="143.9" r="1"/><circle cx="444.6" cy="88.9" r="1"/><circle cx="443.6" cy="112.6" r="1"/><circle cx="463.8" cy="105.9" r="1.1"/><circle cx="427.4" cy="145.1" r="0.7"/><circle cx="437.6" cy="137.9" r="1"/></g><g fill="#d2d2d2"><circle cx="509.9" cy="98.5" r="0.9"/><circle cx="464.7" cy="164.3" r="0.8"/><circle cx="446.5" cy="91.5" r="0.7"/><circle cx="418.3" cy="104" r="0.8"/><circle cx="484.3" cy="157.4" r="1.1"/><circle cx="501.3" cy="98.6" r="0.9"/><circle cx="463.8" cy="100.7" r="1.1"/><circle cx="506.8" cy="160.3" r="0.8"/><circle cx="476.6" cy="97.6" r="0.9"/><circle cx="438.6" cy="119.9" r="1.2"/><circle cx="480.5" cy="110.7" r="1.1"/><circle cx="411.8" cy="169.8" r="0.8"/><circle cx="416.5" cy="132.8" r="1.1"/><circle cx="426.9" cy="157.9" r="1"/><circle cx="488.6" cy="136.6" r="1.1"/><circle cx="433.9" cy="113.9" r="1"/><circle cx="530.3" cy="137.5" r="1.2"/><circle cx="528.7" cy="142.3" r="1"/><circle cx="465.2" cy="157.7" r="1.2"/><circle cx="450.1" cy="120" r="1.1"/><circle cx="503.8" cy="143.5" r="1"/><circle cx="529.2" cy="161.9" r="1.2"/><circle cx="475.5" cy="133.7" r="1.2"/><circle cx="459.5" cy="138" r="0.9"/><circle cx="426.5" cy="89.7" r="0.7"/><circle cx="510.1" cy="95.5" r="0.7"/><circle cx="490.3" cy="154.8" r="1"/><circle cx="483.8" cy="113.8" r="1.2"/><circle cx="418.5" cy="97.4" r="0.9"/><circle cx="451.5" cy="133.2" r="1.1"/><circle cx="441.9" cy="162.9" r="1"/><circle cx="421.4" cy="144" r="0.7"/><circle cx="518.3" cy="131.1" r="0.8"/><circle cx="438.5" cy="126.4" r="0.9"/><circle cx="505.9" cy="136.5" r="1"/><circle cx="495.8" cy="92.2" r="1"/><circle cx="443.5" cy="110.7" r="0.9"/><circle cx="515.5" cy="157.9" r="1.2"/><circle cx="506.2" cy="157.5" r="0.9"/><circle cx="420.1" cy="119.3" r="1.2"/><circle cx="419" cy="124.5" r="0.9"/><circle cx="510" cy="110.7" r="1"/><circle cx="527.1" cy="142.3" r="1"/><circle cx="436.9" cy="95.8" r="0.8"/><circle cx="464.6" cy="139.9" r="0.9"/><circle cx="482.1" cy="106.3" r="0.8"/><circle cx="525.2" cy="95.1" r="1.2"/><circle cx="504.4" cy="136.4" r="1.1"/><circle cx="456.5" cy="140.4" r="0.9"/><circle cx="464.1" cy="95.4" r="1.2"/><circle cx="456" cy="94.7" r="0.8"/><circle cx="473.9" cy="168.8" r="1"/><circle cx="437.4" cy="121.6" r="1.1"/><circle cx="473.6" cy="146.9" r="1.2"/><circle cx="487" cy="157.3" r="1.1"/><circle cx="534.8" cy="155.1" r="1"/></g><g fill="#dedede"><circle cx="423.2" cy="128.8" r="1"/><circle cx="412" cy="161.4" r="0.9"/><circle cx="435.8" cy="109.5" r="1.1"/><circle cx="526.9" cy="124.4" r="1.2"/><circle cx="415.2" cy="109.3" r="0.9"/><circle cx="447" cy="101" r="0.8"/><circle cx="499.5" cy="117" r="0.7"/><circle cx="529.6" cy="168.2" r="1.1"/><circle cx="455.9" cy="109.4" r="0.8"/><circle cx="473.4" cy="145.6" r="1.1"/><circle cx="518.9" cy="112" r="1"/><circle cx="500.3" cy="92.4" r="1.1"/><circle cx="488.5" cy="150.8" r="1.1"/><circle cx="479.6" cy="134.3" r="1.2"/><circle cx="465.2" cy="126.4" r="1.2"/><circle cx="431.2" cy="136.1" r="0.8"/><circle cx="441.3" cy="160" r="0.9"/><circle cx="411.6" cy="112.5" r="0.9"/><circle cx="496.5" cy="101.6" r="0.8"/><circle cx="498.5" cy="138.6" r="1.1"/><circle cx="437.9" cy="156.7" r="1.2"/><circle cx="443.1" cy="145.7" r="0.9"/><circle cx="526.3" cy="120.9" r="0.8"/><circle cx="448.5" cy="153.7" r="0.8"/><circle cx="459.8" cy="144.2" r="0.8"/><circle cx="480.8" cy="168" r="0.9"/><circle cx="422.4" cy="168.6" r="1.1"/><circle cx="496.5" cy="102.6" r="0.8"/><circle cx="493.9" cy="103.6" r="0.9"/><circle cx="447.1" cy="142.7" r="0.8"/><circle cx="503.5" cy="146.9" r="1.2"/><circle cx="498.7" cy="120.3" r="0.8"/><circle cx="487.3" cy="118.7" r="0.8"/><circle cx="460.2" cy="107.2" r="1.1"/><circle cx="514.7" cy="167" r="0.9"/><circle cx="514" cy="111.8" r="1.2"/><circle cx="442.7" cy="129.1" r="0.7"/><circle cx="534.5" cy="147.7" r="1.1"/><circle cx="436.4" cy="118.6" r="1.1"/><circle cx="449.5" cy="97.7" r="1.1"/><circle cx="452.1" cy="119.8" r="1.2"/><circle cx="415.9" cy="129.1" r="1"/><circle cx="505.6" cy="165.5" r="1.2"/><circle cx="427.9" cy="146.6" r="1.1"/><circle cx="487.9" cy="114.3" r="0.7"/><circle cx="480.7" cy="127.3" r="0.9"/><circle cx="491.4" cy="128.9" r="0.9"/><circle cx="521.2" cy="114.9" r="1.1"/><circle cx="447.4" cy="144.5" r="0.8"/><circle cx="453.8" cy="142" r="1.2"/><circle cx="443.8" cy="116.2" r="1.1"/><circle cx="435.7" cy="131" r="0.8"/><circle cx="470.5" cy="152.4" r="0.8"/><circle cx="429.8" cy="103.8" r="1"/><circle cx="456.1" cy="161.6" r="0.9"/><circle cx="417.7" cy="146.2" r="1.2"/><circle cx="523.8" cy="162.4" r="0.8"/><circle cx="483" cy="152.6" r="1.2"/><circle cx="532.6" cy="110.1" r="1.2"/><circle cx="466.6" cy="147.5" r="0.9"/><circle cx="456.5" cy="92.3" r="1.2"/><circle cx="428.3" cy="140.9" r="1.2"/></g><g fill="#eaeaea"><circle cx="501.3" cy="107.6" r="0.8"/><circle cx="533.5" cy="107.8" r="0.7"/><circle cx="502.2" cy="148.9" r="1.2"/><circle cx="533.1" cy="147" r="1.1"/><circle cx="528.6" cy="110.2" r="0.8"/><circle cx="457.7" cy="127.2" r="1.1"/><circle cx="478.4" cy="132.7" r="0.9"/><circle cx="422" cy="117.7" r="1.1"/><circle cx="462" cy="124" r="1"/><circle cx="440.7" cy="124.2" r="1.2"/><circle cx="527.4" cy="159.9" r="0.9"/><circle cx="411.9" cy="121.8" r="1"/><circle cx="419.6" cy="102.5" r="0.8"/><circle cx="429.6" cy="154.1" r="0.7"/><circle cx="460.9" cy="101.4" r="1"/><circle cx="492.2" cy="108.6" r="1"/><circle cx="484.7" cy="157" r="0.9"/><circle cx="445.6" cy="96.4" r="1.1"/><circle cx="471.4" cy="96.4" r="1.2"/><circle cx="449.3" cy="108.9" r="1.1"/><circle cx="439" cy="122.4" r="1"/><circle cx="505" cy="110.7" r="1.2"/><circle cx="421.1" cy="91.8" r="0.9"/><circle cx="534.5" cy="112.7" r="1.1"/><circle cx="432.5" cy="100.4" r="0.9"/><circle cx="432.6" cy="117.6" r="1.1"/><circle cx="418.5" cy="135.1" r="0.7"/><circle cx="466.9" cy="126.4" r="1"/><circle cx="470.9" cy="92.1" r="1.2"/><circle cx="520.4" cy="89.1" r="0.7"/><circle cx="498" cy="150.7" r="0.8"/><circle cx="431.7" cy="109.7" r="1.1"/><circle cx="487.3" cy="99.9" r="1.1"/><circle cx="447" cy="118.5" r="1"/><circle cx="521.1" cy="100.9" r="0.9"/><circle cx="418" cy="162.8" r="0.8"/><circle cx="433.8" cy="124" r="1"/><circle cx="412.1" cy="114.7" r="1.1"/><circle cx="466.3" cy="103.6" r="1.2"/><circle cx="474.5" cy="103.9" r="0.7"/><circle cx="438" cy="129" r="0.9"/><circle cx="460.6" cy="90.1" r="0.9"/><circle cx="521.7" cy="150.7" r="1.1"/><circle cx="438.8" cy="107" r="1.1"/><circle cx="444.7" cy="116.3" r="1.1"/><circle cx="470.4" cy="159.3" r="1.1"/><circle cx="466.8" cy="155.7" r="1.2"/><circle cx="466.3" cy="97.8" r="0.8"/><circle cx="509" cy="118.1" r="0.9"/><circle cx="530.9" cy="147.6" r="0.7"/><circle cx="519.7" cy="147.5" r="0.8"/><circle cx="532.6" cy="155.7" r="0.8"/><circle cx="473.1" cy="137.1" r="1.2"/></g><g fill="#f6f6f6"><circle cx="526.1" cy="136.2" r="1"/><circle cx="427.5" cy="116" r="0.9"/><circle cx="425.1" cy="110.5" r="1"/><circle cx="499.9" cy="157.1" r="0.9"/><circle cx="436.2" cy="167.7" r="1.1"/><circle cx="434.1" cy="167.5" r="0.8"/><circle cx="432.3" cy="143.2" r="0.8"/><circle cx="476.7" cy="122.5" r="1.2"/><circle cx="468.1" cy="115.4" r="1"/><circle cx="421.5" cy="105.1" r="1.2"/><circle cx="416" cy="109" r="1.1"/><circle cx="423.8" cy="124.2" r="1.2"/><circle cx="430.3" cy="124.9" r="1.2"/><circle cx="426.8" cy="125.3" r="0.7"/><circle cx="441" cy="139.4" r="1"/><circle cx="472.1" cy="103.3" r="1.2"/><circle cx="471.3" cy="130.2" r="1.2"/><circle cx="426.9" cy="131.3" r="1"/><circle cx="503.8" cy="115.6" r="1"/><circle cx="498.5" cy="152.4" r="1.2"/></g></g></g><text x="475.2" y="101.4" text-anchor="middle" fill="#fff" style="font-family:'Liberation Sans',sans-serif;font-weight:bold;font-size:10.7px">CIP-CBMs pH=7.4</text><rect x="499.3" y="161.6" width="30.6" height="3.3" fill="#fff"/><text transform="translate(515.2,156.8) scale(1.12,1)" text-anchor="middle" fill="#fff" style="font-family:'Liberation Sans',sans-serif;font-size:9px">10 μm</text><g clip-path="url(#c11)"><rect x="539.3" y="88.3" width="122.7" height="81.6" filter="url(#n11)"/><g filter="url(#bl)"><g fill="#727272"><circle cx="606.4" cy="99.3" r="1"/><circle cx="608" cy="100.5" r="1.1"/><circle cx="579.8" cy="92.8" r="1"/><circle cx="563" cy="90.6" r="1"/><circle cx="572.5" cy="154.9" r="1.3"/><circle cx="595.3" cy="110.4" r="1.4"/><circle cx="609.4" cy="167.2" r="1.1"/></g><g fill="#7e7e7e"><circle cx="562.3" cy="118.7" r="1.2"/><circle cx="655" cy="124" r="1"/><circle cx="652.6" cy="126.6" r="1.4"/><circle cx="592.9" cy="107.7" r="1.2"/><circle cx="613.2" cy="123.4" r="0.9"/><circle cx="629.8" cy="136.9" r="1.4"/><circle cx="649.6" cy="158.6" r="1.2"/><circle cx="631.6" cy="138.4" r="1.3"/><circle cx="644.8" cy="160.2" r="1.3"/><circle cx="563.1" cy="88.1" r="1.1"/><circle cx="564.3" cy="94.7" r="1.2"/><circle cx="569.9" cy="153.9" r="1.2"/><circle cx="633.9" cy="140.7" r="0.8"/><circle cx="624.4" cy="103" r="0.8"/></g><g fill="#8a8a8a"><circle cx="609.9" cy="122.7" r="1"/><circle cx="571.6" cy="152.8" r="0.9"/><circle cx="650.2" cy="121.6" r="1.1"/><circle cx="608.6" cy="99.3" r="1.1"/><circle cx="627" cy="97.9" r="0.8"/><circle cx="567.7" cy="95.2" r="1"/><circle cx="563.1" cy="92" r="1.1"/><circle cx="611.8" cy="166.6" r="1.3"/><circle cx="626" cy="96.7" r="0.9"/><circle cx="612" cy="125.1" r="1.3"/><circle cx="594.3" cy="104.6" r="1.3"/><circle cx="615" cy="167.7" r="0.8"/><circle cx="611.6" cy="167.9" r="0.9"/></g><g fill="#969696"><circle cx="570.4" cy="155.6" r="1.3"/><circle cx="564.4" cy="124.3" r="1.2"/><circle cx="613" cy="167.2" r="1.1"/><circle cx="614.1" cy="120.5" r="0.9"/><circle cx="612.4" cy="122.5" r="1.1"/><circle cx="613.2" cy="167" r="1.4"/><circle cx="644" cy="158.7" r="0.9"/><circle cx="631.9" cy="136.1" r="1.4"/><circle cx="582.3" cy="93.8" r="1"/><circle cx="612.3" cy="169.4" r="1.1"/><circle cx="644.2" cy="156.8" r="1.3"/><circle cx="645.3" cy="159.8" r="0.9"/><circle cx="611.8" cy="127" r="1.4"/><circle cx="641.1" cy="158.6" r="1.3"/><circle cx="613.7" cy="102.7" r="1.4"/><circle cx="538.9" cy="94.2" r="0.9"/><circle cx="592.2" cy="109" r="1.2"/><circle cx="612" cy="101" r="0.9"/></g><g fill="#a2a2a2"><circle cx="578.7" cy="160.3" r="1"/><circle cx="629.6" cy="145.4" r="0.8"/><circle cx="572.1" cy="163.4" r="1"/><circle cx="644.4" cy="98.1" r="0.9"/><circle cx="611.1" cy="152.4" r="0.9"/><circle cx="566.6" cy="142" r="0.8"/><circle cx="654.7" cy="124.8" r="0.9"/><circle cx="562.1" cy="111.1" r="1.2"/><circle cx="658.6" cy="117.3" r="1.1"/><circle cx="649.3" cy="134.2" r="1"/><circle cx="557" cy="158.9" r="1.1"/><circle cx="543.9" cy="166.3" r="0.8"/><circle cx="632.8" cy="101.5" r="1.1"/><circle cx="556.5" cy="112.8" r="1.1"/><circle cx="547.5" cy="108.7" r="1"/><circle cx="573.4" cy="130.4" r="0.8"/><circle cx="633.3" cy="102.6" r="0.9"/><circle cx="564.4" cy="123.3" r="1"/><circle cx="583.9" cy="87.6" r="1.4"/><circle cx="635" cy="140.6" r="1"/><circle cx="610.7" cy="167" r="1.1"/><circle cx="653" cy="123.6" r="1.1"/><circle cx="561.5" cy="90.5" r="1.2"/><circle cx="652.1" cy="124.4" r="0.9"/><circle cx="654.7" cy="125.3" r="1.4"/><circle cx="650.5" cy="125.6" r="1.3"/><circle cx="629.4" cy="98.2" r="1.3"/><circle cx="624.9" cy="100.3" r="0.9"/><circle cx="649.2" cy="159.6" r="1.1"/><circle cx="581.8" cy="89.9" r="1.4"/><circle cx="644.2" cy="161.2" r="1.3"/><circle cx="612.8" cy="125.3" r="1.1"/><circle cx="633" cy="138.4" r="0.8"/><circle cx="561.5" cy="87.7" r="0.8"/></g><g fill="#aeaeae"><circle cx="564.3" cy="116.5" r="1.2"/><circle cx="653.4" cy="142.9" r="0.7"/><circle cx="576" cy="138" r="1.1"/><circle cx="636.4" cy="98.2" r="0.7"/><circle cx="579.1" cy="116.2" r="1.2"/><circle cx="589.4" cy="134.6" r="0.7"/><circle cx="659.6" cy="153" r="0.8"/><circle cx="564.5" cy="155.2" r="1.2"/><circle cx="586.1" cy="96.5" r="1.1"/><circle cx="604.9" cy="102.1" r="0.8"/><circle cx="597" cy="131.7" r="0.9"/><circle cx="599.8" cy="153.2" r="0.7"/><circle cx="570.9" cy="100.6" r="1"/><circle cx="557.8" cy="127.5" r="1"/><circle cx="570.8" cy="149" r="1.2"/><circle cx="553.3" cy="106.5" r="1.1"/><circle cx="610.1" cy="168.9" r="1.1"/><circle cx="641.8" cy="137.4" r="0.7"/><circle cx="646.8" cy="96.9" r="1"/><circle cx="580" cy="100.5" r="1"/><circle cx="599.7" cy="94.9" r="1.1"/><circle cx="558.7" cy="127.8" r="1.1"/><circle cx="598.5" cy="142.5" r="1"/><circle cx="570.5" cy="121.8" r="0.9"/><circle cx="658.4" cy="110.9" r="1"/><circle cx="545.8" cy="157.3" r="1.2"/><circle cx="635.2" cy="112" r="1.2"/><circle cx="573.3" cy="131.2" r="1"/><circle cx="627.5" cy="141.5" r="0.9"/><circle cx="553.1" cy="100.3" r="0.8"/><circle cx="567.8" cy="140" r="0.7"/><circle cx="563.9" cy="91" r="1.1"/><circle cx="608.6" cy="89.7" r="0.7"/><circle cx="632.7" cy="132.6" r="0.9"/><circle cx="558.1" cy="157.8" r="1"/><circle cx="553.1" cy="130.7" r="1.1"/><circle cx="650.9" cy="137.8" r="0.8"/><circle cx="633.5" cy="135.1" r="1.2"/><circle cx="597.8" cy="127.2" r="1.1"/><circle cx="540.4" cy="164.4" r="1"/><circle cx="658.3" cy="105.1" r="1"/><circle cx="610.6" cy="144.7" r="0.9"/><circle cx="579.2" cy="148.7" r="1"/><circle cx="568.8" cy="127.1" r="0.7"/><circle cx="594.5" cy="99.2" r="1.2"/><circle cx="570.4" cy="126.9" r="1.1"/><circle cx="554.4" cy="115.2" r="0.7"/><circle cx="552" cy="153.6" r="1.2"/><circle cx="566.5" cy="163" r="1.1"/><circle cx="659.6" cy="100.1" r="1"/><circle cx="636.2" cy="111.6" r="1.2"/><circle cx="651.4" cy="123.8" r="1.2"/></g><g fill="#bababa"><circle cx="559.2" cy="121.1" r="1.1"/><circle cx="571.6" cy="151.9" r="0.7"/><circle cx="641.2" cy="143.2" r="1"/><circle cx="642.7" cy="156" r="1"/><circle cx="657.5" cy="95" r="1.1"/><circle cx="625.4" cy="130.7" r="1.1"/><circle cx="616.9" cy="164.4" r="0.8"/><circle cx="564.5" cy="88.5" r="0.8"/><circle cx="579.1" cy="122.1" r="0.9"/><circle cx="600.8" cy="134.1" r="0.8"/><circle cx="571.2" cy="135.2" r="1.1"/><circle cx="603.7" cy="157.9" r="1.1"/><circle cx="657" cy="167.5" r="1.1"/><circle cx="618.1" cy="136.8" r="1.2"/><circle cx="574.1" cy="163.2" r="0.9"/><circle cx="545.5" cy="159.4" r="0.8"/><circle cx="652.8" cy="106.5" r="1.2"/><circle cx="554.1" cy="97" r="0.7"/><circle cx="661.5" cy="137.2" r="0.8"/><circle cx="540.6" cy="89.1" r="1.2"/><circle cx="583.1" cy="166.9" r="1"/><circle cx="640" cy="126.4" r="1"/><circle cx="570.7" cy="129.9" r="1"/><circle cx="633.2" cy="129.1" r="0.9"/><circle cx="642" cy="161.9" r="1.2"/><circle cx="611.1" cy="96.7" r="0.8"/><circle cx="573.1" cy="122.6" r="1.1"/><circle cx="619.2" cy="137.7" r="1.1"/><circle cx="604.9" cy="128.9" r="0.8"/><circle cx="583.9" cy="126.9" r="1.2"/><circle cx="544.8" cy="141.3" r="0.8"/><circle cx="653.1" cy="112.8" r="0.9"/><circle cx="620.5" cy="116.1" r="1.2"/><circle cx="585.1" cy="118.7" r="1"/><circle cx="591.4" cy="100.2" r="1"/><circle cx="564.9" cy="141.2" r="1"/><circle cx="615.1" cy="146.4" r="1.2"/><circle cx="657" cy="105.2" r="0.7"/><circle cx="572.6" cy="130" r="0.8"/><circle cx="560" cy="156.7" r="0.8"/><circle cx="608.6" cy="131.3" r="0.8"/><circle cx="566.3" cy="104.3" r="1"/><circle cx="643.2" cy="129.7" r="1"/><circle cx="616.8" cy="132.8" r="1.1"/><circle cx="601.9" cy="109.5" r="1"/><circle cx="603" cy="128.7" r="1.1"/><circle cx="647.5" cy="94" r="1.2"/><circle cx="622.8" cy="97.3" r="0.7"/><circle cx="622.5" cy="103.9" r="1.1"/><circle cx="605.3" cy="136.3" r="1.2"/><circle cx="645.3" cy="168.1" r="1.2"/><circle cx="638" cy="157.1" r="1.1"/><circle cx="621.8" cy="107.2" r="1"/><circle cx="603.2" cy="159.3" r="1.1"/><circle cx="635.5" cy="143.8" r="0.8"/><circle cx="577.8" cy="117.2" r="1"/><circle cx="585.4" cy="159.9" r="1.1"/><circle cx="555.5" cy="141.6" r="0.9"/><circle cx="631.8" cy="160" r="0.9"/></g><g fill="#c6c6c6"><circle cx="624.5" cy="97.1" r="0.8"/><circle cx="660.3" cy="114.8" r="0.9"/><circle cx="614.1" cy="122.8" r="0.8"/><circle cx="569.7" cy="144.6" r="1.2"/><circle cx="616.9" cy="104.8" r="1.2"/><circle cx="634.9" cy="120.2" r="1"/><circle cx="650.1" cy="154.8" r="0.7"/><circle cx="599.9" cy="88.8" r="0.8"/><circle cx="539.6" cy="107.3" r="1.2"/><circle cx="604.3" cy="116" r="1.2"/><circle cx="566.4" cy="146.2" r="1"/><circle cx="598.7" cy="94.1" r="0.8"/><circle cx="582" cy="129.1" r="1"/><circle cx="564.6" cy="118.4" r="0.9"/><circle cx="649" cy="106.5" r="0.8"/><circle cx="636.6" cy="97.9" r="1.2"/><circle cx="639.2" cy="126.8" r="1.2"/><circle cx="556.1" cy="130.1" r="1"/><circle cx="660.1" cy="93.9" r="0.9"/><circle cx="601.4" cy="167.2" r="1.2"/><circle cx="614.3" cy="96.1" r="1.1"/><circle cx="545.2" cy="95.3" r="0.7"/><circle cx="554.6" cy="152.9" r="1.1"/><circle cx="608.7" cy="158.1" r="0.9"/><circle cx="619.4" cy="129.1" r="0.7"/><circle cx="550" cy="126.1" r="1.1"/><circle cx="579.4" cy="142.3" r="1.1"/><circle cx="586.4" cy="133.4" r="0.7"/><circle cx="656" cy="141" r="0.9"/><circle cx="557.3" cy="129.6" r="1.1"/><circle cx="591" cy="149.9" r="0.9"/><circle cx="562.7" cy="99.1" r="1"/><circle cx="627.8" cy="91.5" r="1.1"/><circle cx="604.8" cy="111.2" r="1.1"/><circle cx="591.9" cy="137.9" r="1.1"/><circle cx="550.5" cy="118" r="1.2"/><circle cx="646.5" cy="138.5" r="1"/><circle cx="626.2" cy="128.8" r="0.8"/><circle cx="654.7" cy="120.2" r="1"/><circle cx="644.6" cy="91.7" r="1.2"/><circle cx="622.6" cy="156.8" r="1.1"/><circle cx="646.5" cy="90.9" r="0.7"/><circle cx="601.6" cy="132.3" r="1"/><circle cx="561.8" cy="149.4" r="1.1"/><circle cx="587.4" cy="122.5" r="0.8"/><circle cx="625.6" cy="154.4" r="0.7"/><circle cx="554.5" cy="117.5" r="0.7"/><circle cx="564.6" cy="107.2" r="1.2"/><circle cx="609.6" cy="142.7" r="0.7"/><circle cx="571.2" cy="166.3" r="0.9"/><circle cx="634.6" cy="143.2" r="0.7"/><circle cx="572.3" cy="137.9" r="0.9"/><circle cx="601.7" cy="135.9" r="1"/><circle cx="557" cy="154.1" r="0.9"/><circle cx="563.9" cy="116.1" r="0.8"/><circle cx="606.6" cy="92.5" r="0.9"/></g><g fill="#d2d2d2"><circle cx="637" cy="103.3" r="0.8"/><circle cx="621.5" cy="118.5" r="0.8"/><circle cx="606.8" cy="161.5" r="1.2"/><circle cx="576.9" cy="127.2" r="1.1"/><circle cx="543.8" cy="123.5" r="0.7"/><circle cx="657.1" cy="117.5" r="1"/><circle cx="592.7" cy="98.8" r="1.2"/><circle cx="577.2" cy="157.5" r="1.1"/><circle cx="640.6" cy="138.8" r="0.8"/><circle cx="601.8" cy="93.1" r="0.9"/><circle cx="541.7" cy="156.6" r="1.1"/><circle cx="615.2" cy="143.3" r="1"/><circle cx="556" cy="111" r="1.1"/><circle cx="550.1" cy="106.2" r="1"/><circle cx="542.6" cy="96" r="1"/><circle cx="549.2" cy="151.4" r="0.8"/><circle cx="637.5" cy="109.8" r="1.1"/><circle cx="543.7" cy="166.4" r="1"/><circle cx="571.6" cy="163.5" r="1.1"/><circle cx="614.1" cy="158.5" r="1.2"/><circle cx="597" cy="99.8" r="1.1"/><circle cx="602.6" cy="132.3" r="0.8"/><circle cx="613.7" cy="138.4" r="1.1"/><circle cx="552.4" cy="108.8" r="1.1"/><circle cx="541.8" cy="129.7" r="0.9"/><circle cx="607.3" cy="163.2" r="1"/><circle cx="573.8" cy="126.2" r="1.2"/><circle cx="539.6" cy="117.2" r="0.8"/><circle cx="550" cy="90.8" r="1.1"/><circle cx="547.1" cy="133.8" r="1.2"/><circle cx="660" cy="132.3" r="1.2"/><circle cx="634.7" cy="92.2" r="1.1"/><circle cx="609" cy="130" r="1.1"/><circle cx="646.7" cy="144.2" r="1"/><circle cx="636.3" cy="165.6" r="1.1"/><circle cx="583.3" cy="120" r="1.2"/><circle cx="626.2" cy="112.1" r="1"/><circle cx="565.1" cy="98.8" r="1.1"/><circle cx="601.3" cy="91.8" r="1.2"/><circle cx="642.5" cy="119.2" r="1"/><circle cx="603.4" cy="89.4" r="1.2"/><circle cx="565.9" cy="121.4" r="0.7"/><circle cx="587.8" cy="153.2" r="1.1"/><circle cx="644.6" cy="103.5" r="0.9"/><circle cx="626" cy="117.8" r="1.1"/><circle cx="540.8" cy="166.8" r="0.9"/><circle cx="650.3" cy="124.6" r="0.8"/><circle cx="606.6" cy="113.6" r="1.1"/><circle cx="574" cy="126.4" r="1.2"/><circle cx="630.6" cy="150.7" r="0.9"/><circle cx="624.7" cy="121.4" r="1.1"/><circle cx="647.3" cy="148.3" r="0.8"/><circle cx="637.9" cy="169.4" r="1.2"/><circle cx="629.5" cy="143" r="0.9"/><circle cx="643.1" cy="145.2" r="1.1"/><circle cx="584.9" cy="125" r="1.2"/><circle cx="631.2" cy="153.1" r="0.9"/><circle cx="561.6" cy="169.1" r="1.1"/><circle cx="646.2" cy="139.8" r="1.1"/><circle cx="546.8" cy="160.6" r="1.1"/><circle cx="611.8" cy="128.5" r="1.1"/><circle cx="601.8" cy="144.5" r="1.2"/><circle cx="561.4" cy="108" r="0.7"/></g><g fill="#dedede"><circle cx="594.9" cy="163.2" r="0.8"/><circle cx="632.3" cy="126.9" r="1"/><circle cx="579.6" cy="106.5" r="1"/><circle cx="577.5" cy="98.4" r="0.7"/><circle cx="629" cy="138.5" r="0.8"/><circle cx="598.4" cy="162.5" r="1"/><circle cx="645.4" cy="162.2" r="0.7"/><circle cx="548.7" cy="116.9" r="1.2"/><circle cx="633.7" cy="132.3" r="1.1"/><circle cx="609.1" cy="124.2" r="0.8"/><circle cx="573.8" cy="117" r="0.9"/><circle cx="547.5" cy="149.1" r="0.9"/><circle cx="548.5" cy="122.1" r="1.1"/><circle cx="552.1" cy="125.5" r="1"/><circle cx="594" cy="115" r="1.2"/><circle cx="610.7" cy="114.5" r="1"/><circle cx="622.6" cy="115.8" r="0.9"/><circle cx="559" cy="118.1" r="1.1"/><circle cx="601.8" cy="127.1" r="1.2"/><circle cx="650.3" cy="132.8" r="0.8"/><circle cx="619.9" cy="141" r="1.2"/><circle cx="572.6" cy="167.6" r="0.8"/><circle cx="544.1" cy="169.6" r="1.2"/><circle cx="647.2" cy="94" r="0.9"/><circle cx="579.4" cy="89" r="1.1"/><circle cx="617.2" cy="93.3" r="1"/><circle cx="640.5" cy="154.1" r="1"/><circle cx="569.5" cy="103.2" r="0.8"/><circle cx="610.3" cy="108.8" r="1.1"/><circle cx="619.5" cy="138.3" r="1.2"/><circle cx="566.2" cy="145.6" r="0.8"/><circle cx="566.9" cy="99.2" r="1.1"/><circle cx="585.3" cy="127" r="1"/><circle cx="604" cy="94.5" r="1.2"/><circle cx="578" cy="141.5" r="1.2"/><circle cx="643.6" cy="97.1" r="1"/><circle cx="550.9" cy="141" r="0.8"/><circle cx="661.7" cy="148.2" r="0.9"/><circle cx="624.7" cy="100.2" r="1.2"/><circle cx="658.5" cy="149.3" r="1.1"/></g><g fill="#eaeaea"><circle cx="654.5" cy="123.9" r="1.1"/><circle cx="593.1" cy="169.1" r="1.2"/><circle cx="553" cy="147.5" r="1.1"/><circle cx="659.9" cy="122.2" r="1.1"/><circle cx="610.6" cy="168.8" r="1.1"/><circle cx="590" cy="149" r="1.1"/><circle cx="587.7" cy="110.2" r="0.8"/><circle cx="585.7" cy="93.9" r="0.7"/><circle cx="560.4" cy="116.6" r="0.8"/><circle cx="639.8" cy="156.2" r="0.9"/><circle cx="659.6" cy="97.7" r="0.8"/><circle cx="559.4" cy="159.7" r="1"/><circle cx="577.2" cy="156.3" r="1.2"/><circle cx="617.4" cy="167.3" r="1.2"/><circle cx="555.2" cy="138.1" r="1"/><circle cx="571.7" cy="159" r="0.8"/><circle cx="548" cy="139.8" r="0.7"/><circle cx="543.2" cy="140.5" r="1"/><circle cx="652.8" cy="158.9" r="1.1"/><circle cx="548.6" cy="159.2" r="1"/><circle cx="576.8" cy="95.3" r="1"/><circle cx="624.6" cy="98.8" r="0.9"/><circle cx="558.7" cy="158.1" r="0.9"/><circle cx="641.7" cy="132.6" r="1.1"/><circle cx="621.5" cy="116.1" r="1.2"/><circle cx="632.9" cy="118" r="0.9"/><circle cx="614" cy="131.3" r="1.2"/><circle cx="619.7" cy="94.4" r="0.7"/><circle cx="558.6" cy="150.3" r="1.2"/><circle cx="561.2" cy="115.9" r="0.9"/><circle cx="546.5" cy="164.6" r="0.8"/><circle cx="617.7" cy="95.5" r="1.1"/><circle cx="554.3" cy="159.3" r="1"/><circle cx="575.4" cy="135.4" r="0.9"/><circle cx="549.1" cy="128" r="1"/><circle cx="564.2" cy="103.4" r="0.9"/><circle cx="581.9" cy="111.5" r="0.8"/><circle cx="623.1" cy="120.7" r="1.2"/><circle cx="633" cy="137.3" r="0.8"/><circle cx="658.2" cy="165.8" r="0.9"/><circle cx="551.2" cy="157" r="0.7"/><circle cx="624" cy="97.4" r="1.1"/><circle cx="550.6" cy="132.3" r="1.2"/><circle cx="628.5" cy="124.9" r="0.9"/><circle cx="642.8" cy="102.3" r="1.2"/><circle cx="650.9" cy="139.1" r="0.7"/><circle cx="647.8" cy="113.1" r="1.1"/><circle cx="637.7" cy="144.3" r="1"/><circle cx="601.6" cy="105.9" r="0.8"/><circle cx="570.6" cy="155.5" r="0.7"/><circle cx="637.2" cy="159.1" r="0.8"/><circle cx="573" cy="103.3" r="0.8"/><circle cx="652.1" cy="98.6" r="0.9"/><circle cx="596.2" cy="147.7" r="1.2"/><circle cx="623.5" cy="115.1" r="0.7"/><circle cx="549.3" cy="103.7" r="0.8"/></g><g fill="#f6f6f6"><circle cx="581.1" cy="116.8" r="0.7"/><circle cx="591.2" cy="132.4" r="1.2"/><circle cx="626" cy="147.4" r="1.2"/><circle cx="555.7" cy="89.8" r="1"/><circle cx="657.8" cy="124.1" r="1"/><circle cx="583.4" cy="94.4" r="1"/><circle cx="546.9" cy="115" r="0.7"/><circle cx="616.7" cy="124.2" r="1"/><circle cx="588.7" cy="130.8" r="0.9"/><circle cx="656.6" cy="166.8" r="1.2"/><circle cx="642.1" cy="90.3" r="0.8"/><circle cx="589.7" cy="137" r="1"/><circle cx="643.5" cy="168.7" r="0.9"/><circle cx="581.8" cy="148.6" r="1"/><circle cx="552.3" cy="155.5" r="0.8"/><circle cx="661" cy="138.7" r="0.9"/><circle cx="639.9" cy="94.9" r="0.7"/><circle cx="652.7" cy="101.3" r="1"/></g></g></g><text x="602.3" y="101.4" text-anchor="middle" fill="#fff" style="font-family:'Liberation Sans',sans-serif;font-weight:bold;font-size:10.7px">CIP-CBMs pH=5.5</text><rect x="627.8" y="161.6" width="30.6" height="3.3" fill="#fff"/><text transform="translate(643.7,156.8) scale(1.12,1)" text-anchor="middle" fill="#fff" style="font-family:'Liberation Sans',sans-serif;font-size:9px">10 μm</text><g clip-path="url(#c20)"><rect x="411.3" y="173.3" width="123.7" height="81.7" filter="url(#n20)"/><g filter="url(#bl)"><g fill="#727272"><circle cx="463.5" cy="253.5" r="0.6"/><circle cx="422.2" cy="214.1" r="0.7"/><circle cx="449.7" cy="209.9" r="0.5"/><circle cx="464.9" cy="221.2" r="0.8"/></g><g fill="#7e7e7e"><circle cx="522.8" cy="183.1" r="0.7"/><circle cx="445.1" cy="176.6" r="1.2"/><circle cx="525.2" cy="246.2" r="0.8"/><circle cx="530.8" cy="247.4" r="0.8"/><circle cx="424.7" cy="175.7" r="0.7"/><circle cx="533.9" cy="230.6" r="0.6"/><circle cx="477.2" cy="218.7" r="1"/><circle cx="443.2" cy="246.2" r="0.6"/><circle cx="484.5" cy="193.4" r="0.9"/><circle cx="487.3" cy="236.9" r="1.1"/><circle cx="461.9" cy="217.7" r="0.9"/><circle cx="421.9" cy="234.5" r="1"/><circle cx="420.3" cy="232.3" r="1.1"/><circle cx="480.5" cy="193.9" r="0.8"/><circle cx="523.6" cy="203.9" r="0.9"/><circle cx="458.8" cy="240.2" r="1"/><circle cx="496.1" cy="254.9" r="0.7"/><circle cx="459.5" cy="229.3" r="1"/><circle cx="410.1" cy="176.2" r="0.6"/><circle cx="530.4" cy="234" r="1"/><circle cx="447.4" cy="206.3" r="0.8"/><circle cx="524.9" cy="237.2" r="0.8"/><circle cx="533.9" cy="246.7" r="0.9"/><circle cx="536.1" cy="232.8" r="1"/><circle cx="524" cy="207.9" r="1.1"/><circle cx="442.3" cy="206.4" r="0.9"/><circle cx="467.8" cy="183" r="0.9"/><circle cx="479.6" cy="192.2" r="1.1"/><circle cx="534.9" cy="233.4" r="0.7"/><circle cx="511.7" cy="207.6" r="0.8"/><circle cx="415.3" cy="226.4" r="0.8"/><circle cx="505.5" cy="177.2" r="0.6"/><circle cx="498.1" cy="204.3" r="1.2"/><circle cx="515.8" cy="193" r="0.8"/><circle cx="491.4" cy="249.6" r="0.8"/><circle cx="514.8" cy="225.5" r="0.9"/><circle cx="452.2" cy="236.1" r="1.1"/><circle cx="426.6" cy="174.3" r="1"/><circle cx="493.3" cy="253.1" r="0.8"/><circle cx="486.4" cy="232.4" r="0.7"/><circle cx="448.8" cy="179.2" r="1.2"/><circle cx="497" cy="206.4" r="0.7"/><circle cx="536.3" cy="230.4" r="0.8"/><circle cx="480.5" cy="194.3" r="0.7"/><circle cx="425.1" cy="176.1" r="1"/><circle cx="461.5" cy="244.2" r="0.8"/><circle cx="495.5" cy="201" r="0.6"/><circle cx="532.2" cy="235" r="1.1"/><circle cx="513.4" cy="210.7" r="0.9"/><circle cx="532" cy="249.5" r="0.7"/><circle cx="519.9" cy="204.5" r="1"/><circle cx="479.2" cy="216.6" r="0.9"/><circle cx="524.8" cy="205.6" r="0.7"/><circle cx="471.2" cy="209" r="0.8"/><circle cx="445.8" cy="219.4" r="0.7"/><circle cx="467" cy="252.7" r="0.9"/><circle cx="439.4" cy="198" r="0.6"/><circle cx="428.7" cy="176.8" r="0.9"/><circle cx="502.1" cy="185.4" r="0.9"/><circle cx="534.1" cy="174" r="0.8"/></g><g fill="#8a8a8a"><circle cx="453.1" cy="183.5" r="1"/><circle cx="422" cy="233.9" r="0.7"/><circle cx="526.1" cy="238.1" r="0.8"/><circle cx="489.7" cy="229.8" r="0.8"/><circle cx="463.8" cy="243.2" r="1.1"/><circle cx="444.2" cy="208.3" r="0.7"/><circle cx="528.5" cy="228.7" r="0.8"/><circle cx="445.9" cy="203.2" r="0.9"/><circle cx="527.6" cy="180.8" r="0.8"/><circle cx="504" cy="178.6" r="0.8"/><circle cx="410.9" cy="176.4" r="1"/><circle cx="510.2" cy="179.7" r="1"/><circle cx="445" cy="200.9" r="1"/><circle cx="419.4" cy="233.4" r="0.7"/><circle cx="509.6" cy="199.7" r="0.8"/><circle cx="530.7" cy="245.9" r="1.2"/><circle cx="477.1" cy="213.1" r="1.1"/><circle cx="466.8" cy="185.2" r="0.9"/><circle cx="476.4" cy="219.3" r="0.7"/><circle cx="481.7" cy="193.8" r="0.6"/><circle cx="476.1" cy="216.7" r="1.1"/><circle cx="536.4" cy="233.5" r="1"/><circle cx="461.1" cy="217.4" r="1.1"/><circle cx="449.9" cy="235.3" r="0.8"/><circle cx="527.2" cy="245.3" r="0.8"/><circle cx="507" cy="177.7" r="0.7"/><circle cx="484.8" cy="189.7" r="1"/><circle cx="443.2" cy="205.3" r="0.8"/><circle cx="478.6" cy="215.1" r="1.1"/><circle cx="468.7" cy="185.6" r="1"/><circle cx="513" cy="199.7" r="0.9"/><circle cx="532.4" cy="231.9" r="1.1"/><circle cx="485.7" cy="233.4" r="1"/><circle cx="437.5" cy="217" r="0.7"/><circle cx="446.9" cy="206.9" r="0.9"/><circle cx="474.9" cy="217.3" r="0.7"/><circle cx="429.6" cy="175.1" r="0.9"/><circle cx="419.3" cy="235.9" r="0.8"/><circle cx="444.7" cy="205.7" r="1"/><circle cx="454.8" cy="236.2" r="0.7"/><circle cx="513.5" cy="228.4" r="0.9"/><circle cx="477.3" cy="210.6" r="0.8"/><circle cx="530.3" cy="236.2" r="1.1"/><circle cx="422.5" cy="225.1" r="0.8"/><circle cx="442.2" cy="245.2" r="0.7"/><circle cx="498.6" cy="204.8" r="0.7"/><circle cx="490" cy="237.6" r="0.6"/><circle cx="506.6" cy="216.5" r="0.5"/><circle cx="418.1" cy="180.3" r="0.5"/><circle cx="531.7" cy="177.8" r="0.9"/><circle cx="460.1" cy="248.5" r="0.6"/><circle cx="524.8" cy="232.2" r="0.7"/><circle cx="447.4" cy="238.7" r="0.8"/></g><g fill="#969696"><circle cx="525" cy="179.7" r="1.1"/><circle cx="520.2" cy="177.9" r="0.8"/><circle cx="488.4" cy="229.4" r="0.6"/><circle cx="515" cy="227.2" r="0.9"/><circle cx="534.5" cy="236" r="1"/><circle cx="489.1" cy="189.2" r="0.9"/><circle cx="481.4" cy="226.1" r="0.6"/><circle cx="509.1" cy="177.4" r="1.1"/><circle cx="513.3" cy="186.7" r="1.1"/><circle cx="462.7" cy="241.5" r="0.9"/><circle cx="440.7" cy="241.9" r="0.6"/><circle cx="483.1" cy="190.1" r="0.7"/><circle cx="444.6" cy="206.3" r="1.1"/><circle cx="523.7" cy="199.2" r="1"/><circle cx="515.2" cy="194.4" r="0.8"/><circle cx="443" cy="204.4" r="1.2"/><circle cx="442.2" cy="215.1" r="0.7"/><circle cx="525.4" cy="206.5" r="0.7"/><circle cx="480.7" cy="193.9" r="0.8"/><circle cx="475.9" cy="198.3" r="1.1"/><circle cx="472.9" cy="215.1" r="0.8"/><circle cx="443.2" cy="244.5" r="0.6"/><circle cx="504.3" cy="176.3" r="0.7"/><circle cx="475.3" cy="211.5" r="1"/><circle cx="478.3" cy="218.4" r="0.8"/><circle cx="515" cy="207.6" r="1.2"/><circle cx="481.9" cy="225" r="0.9"/><circle cx="478" cy="217.3" r="0.7"/><circle cx="444.3" cy="246.8" r="1"/><circle cx="453.7" cy="236.8" r="1.2"/><circle cx="485.8" cy="236.2" r="1.2"/><circle cx="442.5" cy="216.9" r="0.7"/><circle cx="487.2" cy="233.3" r="1.1"/><circle cx="506.4" cy="200.7" r="0.9"/><circle cx="484.6" cy="189.3" r="1.1"/><circle cx="475.6" cy="220.3" r="1"/><circle cx="448.2" cy="239.2" r="1.1"/><circle cx="476.4" cy="211.2" r="1"/><circle cx="525.4" cy="250.8" r="0.9"/><circle cx="483.7" cy="233.1" r="1.1"/><circle cx="452" cy="181.4" r="0.8"/><circle cx="537.8" cy="233.6" r="1"/><circle cx="510.9" cy="176.1" r="1.2"/><circle cx="476.2" cy="219.8" r="1"/><circle cx="500.9" cy="198.8" r="0.8"/><circle cx="472.6" cy="218.7" r="1.2"/><circle cx="465.4" cy="205.7" r="0.8"/><circle cx="481.6" cy="230.1" r="0.7"/><circle cx="528" cy="195.8" r="0.6"/><circle cx="507.7" cy="242.3" r="1"/><circle cx="479.3" cy="202" r="0.6"/><circle cx="485.2" cy="195" r="0.9"/><circle cx="495.5" cy="183.8" r="0.7"/></g><g fill="#a2a2a2"><circle cx="511.4" cy="196.1" r="0.8"/><circle cx="525.5" cy="249.7" r="1.1"/><circle cx="525.1" cy="186" r="1"/><circle cx="518.2" cy="171.6" r="0.7"/><circle cx="448.6" cy="204.1" r="1.1"/><circle cx="454" cy="240.4" r="1"/><circle cx="487.4" cy="230.8" r="1"/><circle cx="441.2" cy="215.8" r="0.9"/><circle cx="512.7" cy="199.2" r="1.1"/><circle cx="447.8" cy="207.5" r="0.9"/><circle cx="465.8" cy="243.4" r="0.7"/><circle cx="523.1" cy="247.3" r="1"/><circle cx="500.7" cy="201.5" r="1.2"/><circle cx="462.5" cy="216.6" r="0.9"/><circle cx="518.9" cy="195" r="0.9"/><circle cx="523.9" cy="202.9" r="0.7"/><circle cx="530.4" cy="232.3" r="0.9"/><circle cx="465.1" cy="184.6" r="0.8"/><circle cx="452.4" cy="236.6" r="1.1"/><circle cx="457.1" cy="237.7" r="1.1"/><circle cx="472.8" cy="215.8" r="0.7"/><circle cx="497.8" cy="205.3" r="0.8"/><circle cx="523.6" cy="178.1" r="0.9"/><circle cx="464.5" cy="185.3" r="0.7"/><circle cx="468.9" cy="210.4" r="0.7"/><circle cx="501.3" cy="190.7" r="0.7"/><circle cx="518.7" cy="170.4" r="0.8"/><circle cx="443.2" cy="177.5" r="1.1"/><circle cx="491.5" cy="230.3" r="0.7"/><circle cx="531.7" cy="234.1" r="0.8"/><circle cx="462.9" cy="216.4" r="0.9"/><circle cx="526.6" cy="223.3" r="1"/><circle cx="473.5" cy="218.6" r="0.7"/><circle cx="479.2" cy="217.1" r="0.7"/><circle cx="484.9" cy="191.9" r="1"/><circle cx="441.2" cy="246.5" r="0.8"/><circle cx="475.1" cy="218.1" r="0.7"/><circle cx="532.1" cy="240.8" r="1"/><circle cx="487.5" cy="233.1" r="1"/><circle cx="467.6" cy="207.2" r="0.6"/><circle cx="528" cy="251" r="0.8"/><circle cx="525" cy="249.4" r="0.7"/><circle cx="471.2" cy="215.4" r="0.9"/><circle cx="420.3" cy="233.5" r="1.2"/><circle cx="475.2" cy="215.1" r="1.1"/><circle cx="533.5" cy="235.3" r="0.7"/><circle cx="482.8" cy="230.3" r="1.2"/><circle cx="454.7" cy="227.1" r="0.9"/><circle cx="497.2" cy="206" r="0.9"/><circle cx="473.4" cy="218" r="1.2"/><circle cx="517.5" cy="185.6" r="0.8"/><circle cx="528.4" cy="247.1" r="1.1"/><circle cx="419.9" cy="226.8" r="0.8"/><circle cx="523.8" cy="177" r="1.2"/><circle cx="452.9" cy="225" r="0.8"/><circle cx="523.2" cy="210.3" r="0.7"/><circle cx="442" cy="246.4" r="0.7"/><circle cx="427.9" cy="176.6" r="1.2"/><circle cx="477.8" cy="217.5" r="1.1"/><circle cx="530" cy="179.2" r="1.1"/><circle cx="475.6" cy="216.9" r="0.9"/><circle cx="427.4" cy="177.9" r="1"/><circle cx="495.2" cy="187.2" r="1"/><circle cx="481.9" cy="211.6" r="1"/><circle cx="526.4" cy="249.5" r="0.9"/><circle cx="469.5" cy="197.4" r="0.6"/><circle cx="418" cy="180.5" r="0.9"/><circle cx="515.1" cy="200.2" r="0.9"/><circle cx="415.2" cy="204.1" r="0.8"/><circle cx="414.7" cy="178.6" r="0.7"/><circle cx="482.9" cy="226.9" r="0.6"/><circle cx="452.4" cy="220.7" r="0.6"/><circle cx="411.3" cy="248.7" r="0.6"/><circle cx="434.6" cy="209.6" r="0.6"/><circle cx="416.3" cy="235.9" r="0.6"/><circle cx="444.3" cy="186.6" r="1"/><circle cx="419.1" cy="204.2" r="0.6"/></g><g fill="#aeaeae"><circle cx="484.6" cy="191.7" r="0.8"/><circle cx="485" cy="188.8" r="0.7"/><circle cx="495.7" cy="205.3" r="0.8"/><circle cx="450.7" cy="183.1" r="0.7"/><circle cx="510.6" cy="179.7" r="0.8"/><circle cx="486.6" cy="188.7" r="0.9"/><circle cx="519.3" cy="183.6" r="1.1"/><circle cx="456.4" cy="229.1" r="1.2"/><circle cx="474.4" cy="214.5" r="0.8"/><circle cx="478.2" cy="197.4" r="0.9"/><circle cx="518.3" cy="201.5" r="1.1"/><circle cx="514.4" cy="207.4" r="0.6"/><circle cx="527.1" cy="207.3" r="1.1"/><circle cx="447.4" cy="247" r="1"/><circle cx="422.8" cy="235.5" r="1.2"/><circle cx="421.6" cy="233.4" r="1.1"/><circle cx="438.9" cy="216.1" r="0.7"/><circle cx="525.8" cy="206.1" r="0.9"/><circle cx="525.8" cy="228.8" r="1.1"/><circle cx="524.9" cy="181" r="0.9"/><circle cx="500.4" cy="199.1" r="0.7"/><circle cx="473.2" cy="215.8" r="0.9"/><circle cx="437" cy="216.2" r="0.8"/><circle cx="451.3" cy="179.5" r="0.7"/><circle cx="527.9" cy="177.3" r="1.1"/><circle cx="515.8" cy="226.3" r="1"/><circle cx="498.6" cy="202.6" r="0.6"/><circle cx="508.5" cy="198.1" r="1"/><circle cx="462" cy="216.4" r="0.9"/><circle cx="512.8" cy="194.3" r="0.7"/><circle cx="427.6" cy="175.4" r="0.7"/><circle cx="426.6" cy="173.6" r="1"/><circle cx="518.7" cy="187.1" r="0.9"/><circle cx="515.8" cy="196.5" r="0.7"/><circle cx="487.1" cy="234.3" r="1"/><circle cx="523.8" cy="178.6" r="0.8"/><circle cx="476.5" cy="215.2" r="1.1"/><circle cx="476" cy="215.1" r="1"/><circle cx="453" cy="182.3" r="0.8"/><circle cx="532.7" cy="236.6" r="0.8"/><circle cx="479" cy="216.9" r="0.7"/><circle cx="446" cy="201.7" r="1.1"/><circle cx="532.4" cy="240.2" r="1"/><circle cx="451.1" cy="237.1" r="0.8"/><circle cx="493.6" cy="254.8" r="1.1"/><circle cx="474.7" cy="218.1" r="1.1"/><circle cx="484.5" cy="233.3" r="1.1"/><circle cx="488" cy="235.5" r="0.9"/><circle cx="521.2" cy="179.9" r="0.8"/><circle cx="424" cy="226.2" r="0.8"/><circle cx="494.5" cy="200.2" r="0.7"/><circle cx="498.2" cy="216.3" r="0.7"/><circle cx="424.7" cy="229.5" r="0.6"/><circle cx="521" cy="239.4" r="0.7"/><circle cx="523.6" cy="180" r="0.7"/><circle cx="473.9" cy="234.5" r="0.9"/><circle cx="500.1" cy="193.2" r="0.7"/><circle cx="530.8" cy="203.3" r="0.9"/></g><g fill="#bababa"><circle cx="476.9" cy="218.5" r="1"/><circle cx="457.8" cy="217" r="0.8"/><circle cx="521.6" cy="204.2" r="0.9"/><circle cx="475.5" cy="220.1" r="0.7"/><circle cx="473.5" cy="215.7" r="1.2"/><circle cx="507.9" cy="181.1" r="0.8"/><circle cx="451.2" cy="183.7" r="0.8"/><circle cx="457.7" cy="233.3" r="1"/><circle cx="524.3" cy="228.7" r="1"/><circle cx="420.4" cy="235.7" r="1.2"/><circle cx="473.6" cy="216" r="0.8"/><circle cx="527.2" cy="248.8" r="1"/><circle cx="474" cy="217.7" r="1"/><circle cx="482.7" cy="219" r="0.8"/><circle cx="512.3" cy="195.8" r="0.8"/><circle cx="518.1" cy="175" r="1.1"/><circle cx="498.9" cy="201.1" r="0.8"/><circle cx="419.4" cy="225" r="0.7"/><circle cx="410.5" cy="225.9" r="0.7"/><circle cx="531.5" cy="243.8" r="1"/><circle cx="525.8" cy="249.5" r="0.6"/><circle cx="487" cy="231.9" r="1"/><circle cx="427.7" cy="172" r="1.1"/><circle cx="515.5" cy="185.1" r="0.8"/><circle cx="464.7" cy="209.7" r="0.8"/><circle cx="488.3" cy="230.8" r="1.2"/><circle cx="468.4" cy="185.7" r="0.9"/><circle cx="478.3" cy="212.2" r="0.9"/><circle cx="490.2" cy="235.2" r="0.6"/><circle cx="427.4" cy="177.2" r="0.9"/><circle cx="518.9" cy="185.7" r="1.2"/><circle cx="489" cy="236.3" r="0.9"/><circle cx="525.4" cy="209.6" r="1.1"/><circle cx="444.3" cy="245.6" r="0.8"/><circle cx="492.3" cy="233.2" r="0.6"/><circle cx="446.2" cy="204.5" r="1"/><circle cx="517.3" cy="176.3" r="0.7"/><circle cx="467.1" cy="242.7" r="1.2"/><circle cx="504.8" cy="204.6" r="1.1"/><circle cx="521.3" cy="201" r="1"/><circle cx="457.6" cy="231.5" r="1.1"/><circle cx="446.3" cy="203.6" r="0.7"/><circle cx="411" cy="175.9" r="1"/><circle cx="530.8" cy="236" r="1"/><circle cx="423.7" cy="226.6" r="0.7"/><circle cx="454.4" cy="237.9" r="0.6"/><circle cx="453.7" cy="193.2" r="0.9"/><circle cx="502" cy="216.7" r="1"/><circle cx="523" cy="194.7" r="0.6"/><circle cx="519.4" cy="204.3" r="0.8"/><circle cx="453.7" cy="247.5" r="0.5"/><circle cx="501.9" cy="222.8" r="0.8"/><circle cx="511" cy="179.3" r="1"/><circle cx="414.3" cy="186.4" r="1"/><circle cx="496.4" cy="207.2" r="0.6"/></g><g fill="#c6c6c6"><circle cx="494.5" cy="254.4" r="0.6"/><circle cx="494.9" cy="251" r="0.7"/><circle cx="524" cy="201.9" r="0.8"/><circle cx="461.9" cy="229.2" r="0.8"/><circle cx="495.9" cy="200" r="0.6"/><circle cx="446.9" cy="178.7" r="1.1"/><circle cx="520.3" cy="181.3" r="0.7"/><circle cx="528.3" cy="233.6" r="0.9"/><circle cx="449.4" cy="206.2" r="0.6"/><circle cx="532.4" cy="236.1" r="1"/><circle cx="516.5" cy="173.6" r="1"/><circle cx="497.5" cy="207.3" r="0.8"/><circle cx="500.6" cy="199.4" r="1.2"/><circle cx="413.3" cy="232.9" r="0.7"/><circle cx="466.7" cy="239.4" r="0.8"/><circle cx="445.7" cy="206.3" r="1.1"/><circle cx="495" cy="253.5" r="1"/><circle cx="521.8" cy="179.1" r="0.7"/><circle cx="527.5" cy="236.8" r="0.6"/><circle cx="506.8" cy="174.8" r="0.8"/><circle cx="526.1" cy="208.3" r="0.7"/><circle cx="494.7" cy="254.4" r="0.6"/><circle cx="527.2" cy="245.1" r="0.7"/><circle cx="494.1" cy="249.6" r="1.1"/><circle cx="514.1" cy="201.5" r="0.8"/><circle cx="473.6" cy="217.3" r="1.1"/><circle cx="523.3" cy="209.3" r="0.6"/><circle cx="526" cy="236.1" r="0.7"/><circle cx="498.6" cy="199.6" r="0.9"/><circle cx="509.6" cy="176.4" r="1.2"/><circle cx="512.5" cy="207.6" r="1"/><circle cx="452.8" cy="235.1" r="0.6"/><circle cx="463.7" cy="215.2" r="0.9"/><circle cx="530.4" cy="235.1" r="0.6"/><circle cx="442.9" cy="248.9" r="1.1"/><circle cx="409.7" cy="227.2" r="0.7"/><circle cx="485.4" cy="236.4" r="1.2"/><circle cx="457.4" cy="230.5" r="0.8"/><circle cx="518.5" cy="196.4" r="0.8"/><circle cx="421.8" cy="226.1" r="0.8"/><circle cx="446.9" cy="242.9" r="0.9"/><circle cx="531.3" cy="235.5" r="1"/><circle cx="418.1" cy="227.1" r="1.2"/><circle cx="474.7" cy="214.2" r="0.6"/><circle cx="429.1" cy="173.6" r="1"/><circle cx="467.4" cy="182.3" r="0.9"/><circle cx="527.8" cy="205.4" r="1"/><circle cx="445.5" cy="202.2" r="1.1"/><circle cx="508.8" cy="201.6" r="0.7"/><circle cx="485.3" cy="226.2" r="1"/><circle cx="523" cy="207.1" r="0.8"/><circle cx="495.2" cy="186.1" r="1"/><circle cx="528.5" cy="237.9" r="0.9"/><circle cx="415.8" cy="249.4" r="0.6"/><circle cx="457.2" cy="194.3" r="0.8"/><circle cx="423.1" cy="193.9" r="0.7"/><circle cx="436.9" cy="184.4" r="0.7"/></g><g fill="#d2d2d2"><circle cx="449.1" cy="176.1" r="0.9"/><circle cx="509.8" cy="176.1" r="0.9"/><circle cx="534.7" cy="231.7" r="1.2"/><circle cx="465.6" cy="208.6" r="1"/><circle cx="508.1" cy="181.9" r="1.1"/><circle cx="488.6" cy="234.6" r="1.2"/><circle cx="527.6" cy="181.3" r="1"/><circle cx="468.3" cy="209.5" r="0.9"/><circle cx="488.9" cy="230.9" r="1.1"/><circle cx="460.2" cy="216.6" r="1"/><circle cx="529.9" cy="237.7" r="1.1"/><circle cx="489.7" cy="230.5" r="0.7"/><circle cx="532.6" cy="228.6" r="1.1"/><circle cx="457.7" cy="216.9" r="1.1"/><circle cx="446.4" cy="175.9" r="0.6"/><circle cx="445.2" cy="242.4" r="0.8"/><circle cx="492.6" cy="250.8" r="0.8"/><circle cx="411.1" cy="176.5" r="0.8"/><circle cx="522.6" cy="209.7" r="1.2"/><circle cx="492.8" cy="231.3" r="1.2"/><circle cx="525.5" cy="240" r="0.9"/><circle cx="447.8" cy="234.7" r="0.9"/><circle cx="477.8" cy="216.5" r="0.9"/></g></g></g><text x="472.0" y="186.4" text-anchor="middle" fill="#fff" style="font-family:'Liberation Sans',sans-serif;font-weight:bold;font-size:10.7px">TPP+CIP-CBMs pH=7.4</text><rect x="499.3" y="247.7" width="30.6" height="3.3" fill="#fff"/><text transform="translate(515.2,242.9) scale(1.12,1)" text-anchor="middle" fill="#fff" style="font-family:'Liberation Sans',sans-serif;font-size:9px">10 μm</text><g clip-path="url(#c21)"><rect x="539.3" y="173.3" width="122.7" height="81.7" filter="url(#n21)"/><g filter="url(#bl)"><g fill="#727272"><circle cx="643.7" cy="225.5" r="1"/><circle cx="565.5" cy="231.4" r="0.5"/><circle cx="572.8" cy="212.9" r="0.8"/><circle cx="551.2" cy="236.2" r="0.9"/></g><g fill="#7e7e7e"><circle cx="647.8" cy="248.7" r="0.9"/><circle cx="618.9" cy="244.9" r="1"/><circle cx="583.2" cy="238.4" r="0.9"/><circle cx="643.5" cy="208.3" r="1"/><circle cx="616.5" cy="249.6" r="0.8"/><circle cx="623.8" cy="197.3" r="0.5"/><circle cx="643.6" cy="186.1" r="1"/><circle cx="551.3" cy="179" r="0.6"/><circle cx="655.1" cy="252.3" r="0.7"/><circle cx="615.4" cy="180" r="0.8"/><circle cx="550" cy="186.6" r="1"/><circle cx="603.5" cy="181.3" r="0.8"/><circle cx="592.3" cy="232.1" r="0.9"/><circle cx="574.6" cy="252.4" r="0.8"/></g><g fill="#8a8a8a"><circle cx="632.1" cy="219.6" r="0.9"/><circle cx="608.3" cy="251.6" r="1"/><circle cx="649.6" cy="186.5" r="0.7"/><circle cx="653" cy="216.8" r="0.6"/><circle cx="562.4" cy="214.6" r="0.8"/><circle cx="645.5" cy="248.8" r="0.8"/><circle cx="582" cy="240.5" r="0.8"/><circle cx="650.9" cy="230.2" r="0.8"/><circle cx="555.6" cy="241.6" r="0.9"/><circle cx="548" cy="244.7" r="0.8"/><circle cx="647.2" cy="245" r="0.7"/><circle cx="546.2" cy="211.1" r="0.8"/><circle cx="543.7" cy="174.9" r="0.8"/><circle cx="649.8" cy="236.7" r="1"/><circle cx="643.2" cy="225.3" r="1"/><circle cx="557.4" cy="245.8" r="1"/><circle cx="621.5" cy="186.4" r="1"/><circle cx="633.4" cy="219.1" r="0.8"/><circle cx="646.9" cy="248" r="0.7"/><circle cx="554.9" cy="246.3" r="0.8"/><circle cx="657.9" cy="188" r="1.1"/><circle cx="645.1" cy="246.4" r="1"/><circle cx="643.6" cy="226.5" r="0.9"/><circle cx="570.6" cy="242.7" r="0.9"/><circle cx="587.8" cy="191.5" r="0.8"/><circle cx="600.7" cy="179.3" r="1"/><circle cx="554" cy="218.1" r="1"/><circle cx="650.1" cy="235.3" r="0.7"/><circle cx="541.4" cy="201.4" r="0.7"/><circle cx="620.8" cy="249.5" r="1"/><circle cx="568.5" cy="239.9" r="0.8"/><circle cx="544.8" cy="175.4" r="1.1"/><circle cx="555.3" cy="242.1" r="1"/><circle cx="633.1" cy="236" r="0.8"/><circle cx="591.5" cy="189.4" r="0.9"/></g><g fill="#969696"><circle cx="611.8" cy="253.2" r="0.8"/><circle cx="541.4" cy="207.2" r="0.6"/><circle cx="599.1" cy="226.6" r="1"/><circle cx="599" cy="228" r="0.9"/><circle cx="622.8" cy="237.9" r="0.9"/><circle cx="599.7" cy="227.1" r="1.1"/><circle cx="551.6" cy="216.5" r="1.1"/><circle cx="557.9" cy="185.6" r="0.9"/><circle cx="557" cy="187.4" r="1"/><circle cx="601.5" cy="174.8" r="0.7"/><circle cx="616" cy="235.4" r="1"/><circle cx="549.5" cy="248" r="0.7"/><circle cx="595.1" cy="240.2" r="1.1"/><circle cx="598.5" cy="228" r="0.9"/><circle cx="618.1" cy="180" r="0.7"/><circle cx="649.7" cy="235.7" r="0.8"/><circle cx="610.8" cy="253.6" r="0.8"/><circle cx="619.8" cy="246.6" r="0.8"/><circle cx="633" cy="219.6" r="1"/><circle cx="619.6" cy="225.9" r="1"/><circle cx="562" cy="225.1" r="1"/><circle cx="637.9" cy="252" r="1.1"/><circle cx="610.9" cy="184.5" r="0.7"/><circle cx="616.2" cy="177.4" r="0.9"/><circle cx="630.7" cy="219.9" r="0.9"/><circle cx="646.8" cy="248.1" r="0.9"/><circle cx="588.3" cy="190.6" r="0.9"/><circle cx="545" cy="173.4" r="1"/><circle cx="616.1" cy="181.4" r="1"/><circle cx="649.1" cy="231.9" r="1"/><circle cx="634.4" cy="198.7" r="1"/><circle cx="572.8" cy="222.8" r="0.9"/><circle cx="575.8" cy="205.7" r="1.1"/><circle cx="568.5" cy="203.7" r="0.8"/><circle cx="543.3" cy="175.1" r="0.8"/><circle cx="616.2" cy="218" r="0.7"/><circle cx="581.8" cy="214.3" r="1"/><circle cx="630.4" cy="198.7" r="0.6"/><circle cx="573.1" cy="202.7" r="0.8"/><circle cx="654.4" cy="185.7" r="0.6"/><circle cx="638.4" cy="223.8" r="1"/><circle cx="567.1" cy="212.1" r="0.7"/><circle cx="605.2" cy="240.2" r="0.8"/><circle cx="558.7" cy="249.4" r="0.9"/><circle cx="545.7" cy="228.6" r="0.7"/><circle cx="602.9" cy="208.5" r="0.9"/></g><g fill="#a2a2a2"><circle cx="610.8" cy="252.6" r="1"/><circle cx="564.3" cy="214" r="0.9"/><circle cx="646.7" cy="247.3" r="1"/><circle cx="597.5" cy="188.3" r="0.7"/><circle cx="634.2" cy="217.9" r="1.1"/><circle cx="616.4" cy="178.4" r="0.8"/><circle cx="555.4" cy="247.6" r="0.7"/><circle cx="595.3" cy="243" r="0.8"/><circle cx="570.8" cy="203.8" r="0.6"/><circle cx="609.1" cy="243.3" r="0.9"/><circle cx="618" cy="225" r="1"/><circle cx="655.3" cy="234.5" r="1.1"/><circle cx="621.2" cy="247.5" r="0.9"/><circle cx="581" cy="240.8" r="0.7"/><circle cx="590.8" cy="255.2" r="0.8"/><circle cx="613.6" cy="234.3" r="1"/><circle cx="628.5" cy="222.5" r="0.8"/><circle cx="556.9" cy="174.6" r="0.8"/><circle cx="571.8" cy="254.2" r="0.7"/><circle cx="573.8" cy="183.4" r="0.8"/><circle cx="649.1" cy="206.8" r="1"/><circle cx="617.3" cy="181.3" r="0.6"/><circle cx="602.8" cy="215.5" r="0.7"/><circle cx="599.4" cy="241.4" r="0.8"/><circle cx="580.2" cy="239.5" r="1.1"/><circle cx="615.8" cy="217.7" r="0.8"/><circle cx="659.2" cy="190.3" r="0.7"/><circle cx="568.9" cy="205" r="1"/><circle cx="543.9" cy="174.1" r="0.7"/><circle cx="656.3" cy="234" r="0.8"/><circle cx="591.4" cy="254.3" r="1.1"/><circle cx="653.2" cy="177.6" r="0.8"/><circle cx="579" cy="220.7" r="0.7"/><circle cx="635.3" cy="199.7" r="0.9"/><circle cx="620.9" cy="226.8" r="0.5"/><circle cx="579.7" cy="194" r="0.8"/><circle cx="630.2" cy="219.8" r="0.8"/><circle cx="610.8" cy="194.1" r="0.6"/><circle cx="654.9" cy="197.2" r="0.7"/></g><g fill="#aeaeae"><circle cx="592.6" cy="242.6" r="1"/><circle cx="566.1" cy="252.2" r="0.7"/><circle cx="581.4" cy="214.9" r="1"/><circle cx="593.7" cy="243.3" r="0.8"/><circle cx="601.1" cy="215.5" r="1"/><circle cx="604.2" cy="187" r="0.7"/><circle cx="612.7" cy="242.6" r="1"/><circle cx="600.2" cy="176.9" r="0.9"/><circle cx="605.6" cy="189.8" r="0.9"/><circle cx="592.7" cy="254.7" r="1.1"/><circle cx="557.6" cy="188.1" r="0.8"/><circle cx="638.5" cy="184.4" r="1"/><circle cx="559.2" cy="214.9" r="1.1"/><circle cx="630.2" cy="225.4" r="0.8"/><circle cx="600.8" cy="240.6" r="0.7"/><circle cx="556.7" cy="174.6" r="1.1"/><circle cx="573.7" cy="225.9" r="0.7"/><circle cx="563.6" cy="208.7" r="0.7"/><circle cx="567.6" cy="254.1" r="0.6"/><circle cx="624.2" cy="180.9" r="1.1"/><circle cx="557.9" cy="245.1" r="0.8"/><circle cx="618.1" cy="248" r="0.7"/><circle cx="572.5" cy="252.9" r="0.9"/><circle cx="582" cy="239.5" r="1.1"/><circle cx="648.8" cy="231.1" r="1"/><circle cx="563.1" cy="190.6" r="0.8"/><circle cx="571.7" cy="242.3" r="1"/><circle cx="581.2" cy="214.2" r="1"/><circle cx="649.5" cy="244.2" r="1.1"/><circle cx="619.9" cy="247.6" r="1.1"/><circle cx="591.7" cy="243.6" r="1"/><circle cx="592.6" cy="241.4" r="0.7"/><circle cx="583.3" cy="215.6" r="0.9"/><circle cx="555.5" cy="174.2" r="0.9"/><circle cx="559.9" cy="214.6" r="0.8"/><circle cx="621.6" cy="183.5" r="1"/><circle cx="658.5" cy="251.8" r="1"/><circle cx="562.4" cy="213.1" r="1"/><circle cx="551" cy="245" r="0.7"/><circle cx="603.1" cy="187.8" r="0.6"/><circle cx="547.6" cy="210.8" r="1.1"/><circle cx="572.4" cy="254.3" r="1"/><circle cx="586.9" cy="190.4" r="0.9"/><circle cx="608" cy="254.1" r="0.9"/><circle cx="627.9" cy="187" r="0.9"/><circle cx="571.3" cy="233.4" r="0.9"/><circle cx="634.7" cy="180.8" r="0.6"/><circle cx="542" cy="215" r="0.9"/><circle cx="585.7" cy="195.8" r="0.6"/><circle cx="559.2" cy="195.2" r="0.8"/><circle cx="617" cy="234.2" r="0.7"/><circle cx="637.4" cy="221.2" r="0.9"/><circle cx="614.1" cy="193.6" r="0.5"/></g><g fill="#bababa"><circle cx="562.9" cy="207" r="1.1"/><circle cx="611.1" cy="186.6" r="0.7"/><circle cx="648.4" cy="244.8" r="1.1"/><circle cx="628" cy="242.6" r="0.6"/><circle cx="636.5" cy="249.9" r="0.9"/><circle cx="548.2" cy="245.5" r="1.1"/><circle cx="569.2" cy="203.3" r="1"/><circle cx="610.6" cy="183" r="0.9"/><circle cx="541.3" cy="207.7" r="1"/><circle cx="601.9" cy="178.7" r="0.8"/><circle cx="629.5" cy="225" r="0.8"/><circle cx="573.4" cy="184.1" r="0.7"/><circle cx="546.5" cy="198.5" r="0.9"/><circle cx="632.9" cy="184.5" r="0.7"/><circle cx="630.6" cy="225.2" r="0.6"/><circle cx="546.5" cy="210.2" r="0.6"/><circle cx="659" cy="217.5" r="0.9"/><circle cx="544.9" cy="199.3" r="1.1"/><circle cx="648.9" cy="207" r="0.7"/><circle cx="651" cy="185.6" r="1.1"/><circle cx="611.6" cy="243.1" r="0.8"/><circle cx="569.2" cy="241.2" r="0.7"/><circle cx="625.2" cy="243.8" r="0.6"/><circle cx="635.7" cy="252.2" r="0.9"/><circle cx="573" cy="253.9" r="1"/><circle cx="633.6" cy="201.9" r="0.7"/><circle cx="555.6" cy="241.8" r="1.1"/><circle cx="557.8" cy="187.6" r="1"/><circle cx="544.7" cy="209.4" r="1"/><circle cx="592.9" cy="241.4" r="1"/><circle cx="591.6" cy="186.5" r="0.7"/><circle cx="622.7" cy="238.4" r="1.1"/><circle cx="559.7" cy="226.2" r="0.8"/><circle cx="615.2" cy="177.5" r="0.7"/><circle cx="570.8" cy="223.7" r="0.8"/><circle cx="573.5" cy="182.9" r="1.1"/><circle cx="615.9" cy="220.8" r="0.6"/><circle cx="601.5" cy="178.6" r="0.6"/><circle cx="610.8" cy="252.4" r="0.9"/><circle cx="582.2" cy="214.6" r="0.9"/><circle cx="627.7" cy="211.8" r="0.6"/><circle cx="604.5" cy="185.8" r="0.9"/><circle cx="643.2" cy="251" r="0.9"/><circle cx="611.7" cy="193.4" r="0.6"/><circle cx="553" cy="189.6" r="0.9"/><circle cx="607.4" cy="219.9" r="0.5"/></g><g fill="#c6c6c6"><circle cx="546.5" cy="244.3" r="0.9"/><circle cx="630.3" cy="200.9" r="0.7"/><circle cx="540.3" cy="201.2" r="1"/><circle cx="563.7" cy="207.1" r="0.8"/><circle cx="555.4" cy="245.9" r="0.8"/><circle cx="635.8" cy="251.8" r="1.1"/><circle cx="559.7" cy="226.9" r="1.1"/><circle cx="587.7" cy="190.6" r="1"/><circle cx="562.8" cy="218" r="0.9"/><circle cx="546.7" cy="209.5" r="0.8"/><circle cx="599.7" cy="188.1" r="1.1"/><circle cx="580.5" cy="241.2" r="0.8"/><circle cx="659.3" cy="217.6" r="1"/><circle cx="609.1" cy="215.5" r="0.8"/><circle cx="618" cy="249.7" r="0.9"/><circle cx="619.4" cy="226.1" r="0.7"/><circle cx="570.3" cy="242.6" r="0.9"/><circle cx="595" cy="221.3" r="0.8"/><circle cx="563.3" cy="207.2" r="1"/><circle cx="553.4" cy="214.4" r="1"/><circle cx="617.6" cy="180.1" r="1"/><circle cx="576.2" cy="227.5" r="1"/><circle cx="625.7" cy="244.2" r="0.8"/><circle cx="611.3" cy="183.2" r="1"/><circle cx="572.9" cy="183.1" r="1"/><circle cx="571.1" cy="204.9" r="0.8"/><circle cx="624.2" cy="187.6" r="0.9"/><circle cx="646.1" cy="246.9" r="1.1"/><circle cx="659" cy="216.3" r="0.9"/><circle cx="545.4" cy="210.3" r="0.7"/><circle cx="621.4" cy="240.7" r="0.8"/><circle cx="648.4" cy="248.8" r="0.6"/><circle cx="649" cy="205.8" r="0.6"/><circle cx="572.6" cy="252.4" r="0.9"/><circle cx="607" cy="216" r="0.8"/><circle cx="554.1" cy="212.8" r="0.9"/><circle cx="650.2" cy="232.1" r="0.7"/><circle cx="556.6" cy="172.9" r="0.7"/><circle cx="612.4" cy="183.2" r="1"/><circle cx="599.7" cy="174.6" r="1"/><circle cx="610.4" cy="183.8" r="0.7"/><circle cx="646" cy="246.8" r="0.9"/><circle cx="554" cy="213" r="1"/><circle cx="569.9" cy="243.2" r="0.7"/><circle cx="612.5" cy="248.9" r="0.6"/><circle cx="609.2" cy="239.4" r="0.6"/><circle cx="648.2" cy="249.1" r="1"/><circle cx="605.3" cy="207.9" r="0.9"/></g><g fill="#d2d2d2"><circle cx="630" cy="224.7" r="1.1"/><circle cx="563.1" cy="214.7" r="0.6"/><circle cx="655.2" cy="234" r="0.7"/><circle cx="538" cy="202.3" r="0.9"/><circle cx="561.2" cy="213.9" r="1"/><circle cx="617.2" cy="225.3" r="0.9"/><circle cx="552.7" cy="218.3" r="0.8"/><circle cx="555.6" cy="175.3" r="0.9"/><circle cx="551.3" cy="212.7" r="0.7"/><circle cx="553.4" cy="202" r="0.8"/><circle cx="572.2" cy="255" r="0.8"/><circle cx="557.1" cy="186.2" r="1.1"/><circle cx="557.2" cy="247.3" r="1.1"/><circle cx="593.2" cy="189.6" r="0.9"/><circle cx="610.9" cy="184.7" r="0.9"/><circle cx="610.2" cy="244.9" r="0.7"/><circle cx="648.3" cy="249.3" r="0.9"/><circle cx="637" cy="184.2" r="0.8"/><circle cx="561.8" cy="212.1" r="1"/><circle cx="561" cy="213.4" r="1"/><circle cx="562.4" cy="215.1" r="0.7"/><circle cx="650.3" cy="200.8" r="0.7"/><circle cx="539.8" cy="202.6" r="0.9"/><circle cx="564.3" cy="191" r="0.9"/><circle cx="635.2" cy="219.2" r="0.9"/><circle cx="573" cy="249.6" r="0.9"/><circle cx="609.6" cy="252.7" r="0.7"/><circle cx="573.2" cy="251.5" r="0.9"/><circle cx="599.9" cy="241.8" r="1.1"/><circle cx="646.5" cy="200.4" r="0.8"/><circle cx="631.6" cy="184.8" r="0.9"/><circle cx="598.7" cy="190.1" r="1"/><circle cx="565.9" cy="255.1" r="0.6"/><circle cx="618.2" cy="248.2" r="1.1"/></g><g fill="#dedede"><circle cx="635.3" cy="251.7" r="0.6"/><circle cx="616.4" cy="176.7" r="1.1"/><circle cx="572.4" cy="223.4" r="1"/><circle cx="629.8" cy="191.5" r="1"/><circle cx="623.2" cy="239.5" r="1.1"/><circle cx="642.8" cy="232" r="0.8"/><circle cx="631.8" cy="183.5" r="0.7"/><circle cx="647.7" cy="185.5" r="0.8"/><circle cx="562.4" cy="215.7" r="1.1"/><circle cx="614.9" cy="235.5" r="0.7"/><circle cx="611.2" cy="243.7" r="1"/></g></g></g><text x="599.5" y="186.4" text-anchor="middle" fill="#fff" style="font-family:'Liberation Sans',sans-serif;font-weight:bold;font-size:10.7px">TPP+CIP-CBMs pH=5.5</text><rect x="627.8" y="247.7" width="30.6" height="3.3" fill="#fff"/><text transform="translate(643.7,242.9) scale(1.12,1)" text-anchor="middle" fill="#fff" style="font-family:'Liberation Sans',sans-serif;font-size:9px">10 μm</text><g clip-path="url(#c30)"><rect x="411.3" y="258.1" width="123.7" height="81.7" filter="url(#n30)"/><g filter="url(#bl)"><g fill="#7e7e7e"><circle cx="467.5" cy="269.5" r="0.7"/><circle cx="501" cy="270.4" r="0.7"/><circle cx="482.4" cy="325.7" r="1"/><circle cx="498.7" cy="305.9" r="1"/><circle cx="441.2" cy="299.7" r="1.1"/></g><g fill="#8a8a8a"><circle cx="419.8" cy="319.3" r="0.7"/><circle cx="451.1" cy="273.8" r="1.1"/><circle cx="489.5" cy="269.8" r="1"/><circle cx="493" cy="339.7" r="0.9"/><circle cx="428.5" cy="276.4" r="1.1"/><circle cx="492" cy="292.4" r="1"/><circle cx="524.4" cy="297.8" r="1.1"/><circle cx="460.9" cy="308.3" r="0.8"/><circle cx="478" cy="280.3" r="1"/><circle cx="528.3" cy="331.5" r="0.8"/><circle cx="516.4" cy="327.2" r="0.9"/><circle cx="529.3" cy="297" r="1"/></g><g fill="#969696"><circle cx="418.8" cy="298.2" r="0.6"/><circle cx="464.1" cy="310.7" r="0.7"/><circle cx="504.7" cy="339.5" r="1.1"/><circle cx="467" cy="269.7" r="1.1"/><circle cx="472.4" cy="327.4" r="0.6"/><circle cx="420.2" cy="326.4" r="1"/><circle cx="485.6" cy="263.5" r="0.6"/><circle cx="489" cy="320" r="1"/><circle cx="497.3" cy="285.4" r="0.8"/><circle cx="534.1" cy="307.6" r="1.2"/><circle cx="438.6" cy="284.8" r="0.7"/><circle cx="440.4" cy="269.6" r="0.7"/><circle cx="460.4" cy="258.5" r="0.6"/></g><g fill="#a2a2a2"><circle cx="485.3" cy="330.8" r="1"/><circle cx="462.3" cy="337.7" r="0.9"/><circle cx="473.6" cy="261.2" r="0.7"/><circle cx="495.7" cy="311.9" r="1.2"/><circle cx="531.4" cy="274.3" r="0.7"/><circle cx="422.4" cy="301" r="0.8"/><circle cx="416.2" cy="320.7" r="1"/><circle cx="412.1" cy="328.3" r="0.7"/><circle cx="425.5" cy="314.6" r="0.6"/><circle cx="532.4" cy="311.5" r="1"/><circle cx="497.5" cy="311.1" r="0.8"/><circle cx="412.9" cy="323" r="0.8"/><circle cx="436.9" cy="298.4" r="0.7"/><circle cx="424.3" cy="273.7" r="0.9"/></g><g fill="#aeaeae"><circle cx="412.9" cy="270.4" r="0.6"/><circle cx="435.7" cy="338.9" r="0.8"/><circle cx="494" cy="313.9" r="1"/><circle cx="524.9" cy="321.8" r="0.7"/><circle cx="511.1" cy="275" r="0.7"/><circle cx="434.5" cy="275.3" r="1"/><circle cx="448.5" cy="283" r="0.6"/><circle cx="491" cy="293" r="1.1"/><circle cx="433.6" cy="309.3" r="1"/><circle cx="488.4" cy="337.9" r="0.9"/><circle cx="448.3" cy="287" r="1.1"/><circle cx="471.4" cy="296.1" r="1.2"/><circle cx="424.7" cy="311.1" r="1.1"/><circle cx="474.5" cy="324.8" r="0.7"/><circle cx="466.3" cy="338.5" r="1.1"/><circle cx="442.9" cy="305.6" r="1.1"/><circle cx="446.8" cy="260.2" r="1"/><circle cx="481.7" cy="262" r="0.7"/><circle cx="534" cy="297.3" r="1"/><circle cx="476" cy="272.5" r="0.8"/><circle cx="469.9" cy="330.2" r="0.6"/><circle cx="424.6" cy="329.3" r="0.6"/><circle cx="447.5" cy="262.8" r="0.8"/></g><g fill="#bababa"><circle cx="512.7" cy="263.3" r="0.9"/><circle cx="482.6" cy="305.4" r="0.9"/><circle cx="509.7" cy="266.4" r="1.2"/><circle cx="499.5" cy="272.9" r="0.6"/><circle cx="449.4" cy="286.3" r="1.1"/><circle cx="425.9" cy="315.2" r="1"/><circle cx="448.5" cy="282.6" r="0.9"/><circle cx="518.8" cy="264.7" r="0.9"/><circle cx="485" cy="280.8" r="1.1"/><circle cx="514.1" cy="319.8" r="0.8"/><circle cx="519.2" cy="273.8" r="0.8"/></g><g fill="#c6c6c6"><circle cx="506.3" cy="306.4" r="0.8"/><circle cx="508.3" cy="302.7" r="1.1"/><circle cx="512.9" cy="327.6" r="0.7"/><circle cx="476.5" cy="317.7" r="1.1"/><circle cx="495.4" cy="339.3" r="0.7"/><circle cx="496.9" cy="268.9" r="0.8"/><circle cx="480.5" cy="307.6" r="0.9"/><circle cx="532.8" cy="295.2" r="0.9"/><circle cx="458.3" cy="317.1" r="0.6"/><circle cx="512.5" cy="312.6" r="0.9"/><circle cx="495.6" cy="284.9" r="0.7"/><circle cx="504.2" cy="318.4" r="0.6"/><circle cx="497.1" cy="274.7" r="1.1"/><circle cx="510.1" cy="335.6" r="1"/><circle cx="503.2" cy="271" r="0.7"/></g><g fill="#d2d2d2"><circle cx="473.1" cy="332.8" r="0.9"/><circle cx="449.2" cy="269.3" r="1.2"/><circle cx="516.4" cy="295.3" r="1.1"/><circle cx="522.6" cy="272.2" r="0.9"/><circle cx="442.8" cy="299" r="1.1"/><circle cx="489.9" cy="275.5" r="0.6"/><circle cx="483.7" cy="260.1" r="0.8"/><circle cx="501.8" cy="288.8" r="0.7"/><circle cx="448.1" cy="280.4" r="0.8"/><circle cx="489.8" cy="294.5" r="0.7"/></g><g fill="#dedede"><circle cx="413.4" cy="259.7" r="1"/><circle cx="461.3" cy="260.9" r="1.1"/><circle cx="458.7" cy="277.5" r="1"/><circle cx="471.3" cy="261.8" r="0.8"/><circle cx="489.8" cy="274.3" r="1.1"/><circle cx="508" cy="321.6" r="1.1"/><circle cx="439.1" cy="279.1" r="1"/><circle cx="462.5" cy="305.5" r="0.7"/><circle cx="448.9" cy="323.2" r="1.2"/><circle cx="450.8" cy="262.2" r="0.8"/><circle cx="501.2" cy="302.5" r="0.6"/><circle cx="496.5" cy="279.3" r="0.8"/></g><g fill="#eaeaea"><circle cx="425.2" cy="269.6" r="1"/><circle cx="485" cy="289.2" r="0.6"/><circle cx="524" cy="269.5" r="0.9"/><circle cx="434.6" cy="289.5" r="0.7"/><circle cx="412.3" cy="317.8" r="0.8"/></g></g></g><text x="471.1" y="271.2" text-anchor="middle" fill="#fff" style="font-family:'Liberation Sans',sans-serif;font-weight:bold;font-size:10.7px">TPP@CIP-CBMs pH=7.4</text><rect x="499.3" y="332.5" width="30.6" height="3.3" fill="#fff"/><text transform="translate(515.2,327.7) scale(1.12,1)" text-anchor="middle" fill="#fff" style="font-family:'Liberation Sans',sans-serif;font-size:9px">10 μm</text><g clip-path="url(#c31)"><rect x="539.3" y="258.1" width="122.7" height="81.7" filter="url(#n31)"/><g filter="url(#bl)"><g fill="#7e7e7e"><circle cx="549.2" cy="324.3" r="1.1"/></g><g fill="#8a8a8a"><circle cx="636" cy="272.6" r="1"/><circle cx="556.6" cy="295.5" r="0.7"/><circle cx="655.2" cy="303.5" r="1.1"/><circle cx="580" cy="339.3" r="0.8"/><circle cx="640.4" cy="302.8" r="1"/></g><g fill="#969696"><circle cx="598" cy="260.2" r="0.7"/><circle cx="637.7" cy="282.7" r="0.9"/><circle cx="610" cy="282.5" r="0.7"/><circle cx="658.5" cy="306.3" r="0.6"/><circle cx="543.3" cy="312" r="0.7"/><circle cx="540.9" cy="300.5" r="1.1"/><circle cx="592.9" cy="302.3" r="0.7"/><circle cx="614.2" cy="272.3" r="0.7"/><circle cx="592.4" cy="263.1" r="0.7"/><circle cx="574.9" cy="302.2" r="0.9"/><circle cx="651.1" cy="332.4" r="1.2"/><circle cx="661.6" cy="276.3" r="0.9"/><circle cx="602.5" cy="306.2" r="1.1"/><circle cx="567.9" cy="315.8" r="1"/><circle cx="590.1" cy="291.5" r="0.8"/><circle cx="553.6" cy="305" r="0.8"/><circle cx="562.7" cy="319.8" r="1"/><circle cx="651.9" cy="300.8" r="1.2"/><circle cx="602.2" cy="260" r="0.9"/></g><g fill="#a2a2a2"><circle cx="564.2" cy="325.6" r="1.2"/><circle cx="637" cy="316.6" r="1.1"/><circle cx="636.9" cy="306.9" r="1.2"/><circle cx="583.8" cy="309.5" r="1.1"/><circle cx="574.3" cy="265.2" r="1"/><circle cx="541.7" cy="336.4" r="0.8"/><circle cx="661.2" cy="320.1" r="1.1"/><circle cx="545" cy="317" r="1.2"/><circle cx="579.6" cy="277.8" r="0.9"/><circle cx="571.4" cy="335.6" r="0.8"/><circle cx="539.8" cy="302.4" r="1"/><circle cx="549.9" cy="338.3" r="0.9"/><circle cx="594.5" cy="259.5" r="0.9"/><circle cx="618.3" cy="287.1" r="0.8"/><circle cx="657.2" cy="284.1" r="0.9"/></g><g fill="#aeaeae"><circle cx="653.5" cy="277.7" r="1.1"/><circle cx="603.6" cy="298.1" r="1"/><circle cx="652.1" cy="316.6" r="0.7"/><circle cx="655.8" cy="269.5" r="0.7"/><circle cx="661" cy="324.3" r="1.1"/><circle cx="659.5" cy="272.3" r="0.9"/><circle cx="559.6" cy="303.3" r="1"/><circle cx="643.2" cy="282.2" r="1.1"/></g><g fill="#bababa"><circle cx="567.3" cy="265.1" r="1.1"/><circle cx="654.3" cy="331.4" r="0.7"/><circle cx="589.1" cy="305.6" r="0.8"/><circle cx="621.5" cy="282.8" r="0.7"/></g><g fill="#c6c6c6"><circle cx="656.3" cy="289.2" r="1"/><circle cx="615.3" cy="328.4" r="1.1"/><circle cx="557.2" cy="270.8" r="0.8"/><circle cx="624.8" cy="293.7" r="0.9"/><circle cx="608.6" cy="277.9" r="0.6"/><circle cx="589.7" cy="260.6" r="0.8"/><circle cx="618.7" cy="308.4" r="0.8"/><circle cx="558.4" cy="264.9" r="0.7"/><circle cx="637.5" cy="274.5" r="1.1"/><circle cx="606" cy="281.1" r="0.7"/><circle cx="571.1" cy="296.9" r="0.7"/><circle cx="568.3" cy="258.5" r="1"/></g><g fill="#d2d2d2"><circle cx="650.9" cy="300.2" r="1"/><circle cx="548" cy="324" r="1.2"/><circle cx="586.6" cy="329.5" r="1.2"/><circle cx="597.6" cy="265.4" r="0.7"/><circle cx="577.2" cy="315.5" r="0.9"/><circle cx="613" cy="275.2" r="1.2"/><circle cx="566.6" cy="288.2" r="0.6"/><circle cx="566.1" cy="325.6" r="1"/><circle cx="582.3" cy="284.1" r="1"/><circle cx="545.5" cy="296.1" r="0.8"/><circle cx="607.7" cy="290.2" r="1.2"/><circle cx="544.8" cy="324.5" r="1"/><circle cx="627.4" cy="331.7" r="0.8"/><circle cx="660.8" cy="334.7" r="0.9"/><circle cx="586.3" cy="259.3" r="0.6"/></g><g fill="#dedede"><circle cx="610.9" cy="299.9" r="1.2"/><circle cx="566.2" cy="294.9" r="0.8"/><circle cx="564.4" cy="296" r="0.9"/><circle cx="590.2" cy="261.7" r="0.8"/><circle cx="544.8" cy="270" r="1.1"/><circle cx="622.2" cy="276.2" r="1.1"/><circle cx="596.6" cy="317.4" r="1.2"/><circle cx="588.8" cy="318.6" r="0.8"/><circle cx="620.9" cy="267.3" r="0.8"/><circle cx="615.4" cy="306.6" r="0.8"/><circle cx="548.1" cy="330.5" r="0.6"/><circle cx="606.1" cy="312.5" r="0.6"/><circle cx="543.3" cy="276.3" r="0.9"/></g><g fill="#eaeaea"><circle cx="573.4" cy="302.9" r="1"/><circle cx="649.2" cy="273.6" r="1.2"/><circle cx="555.2" cy="282.5" r="1"/><circle cx="577.7" cy="284.2" r="0.9"/><circle cx="621.2" cy="292.9" r="0.7"/><circle cx="594.5" cy="321.5" r="1"/><circle cx="634.6" cy="337.2" r="0.9"/><circle cx="556.3" cy="333.9" r="1.1"/></g></g></g><text x="599.6" y="271.2" text-anchor="middle" fill="#fff" style="font-family:'Liberation Sans',sans-serif;font-weight:bold;font-size:10.7px">TPP@CIP-CBMs pH=5.5</text><rect x="627.8" y="332.5" width="30.6" height="3.3" fill="#fff"/><text transform="translate(643.7,327.7) scale(1.12,1)" text-anchor="middle" fill="#fff" style="font-family:'Liberation Sans',sans-serif;font-size:9px">10 μm</text></svg>
</body></html>
